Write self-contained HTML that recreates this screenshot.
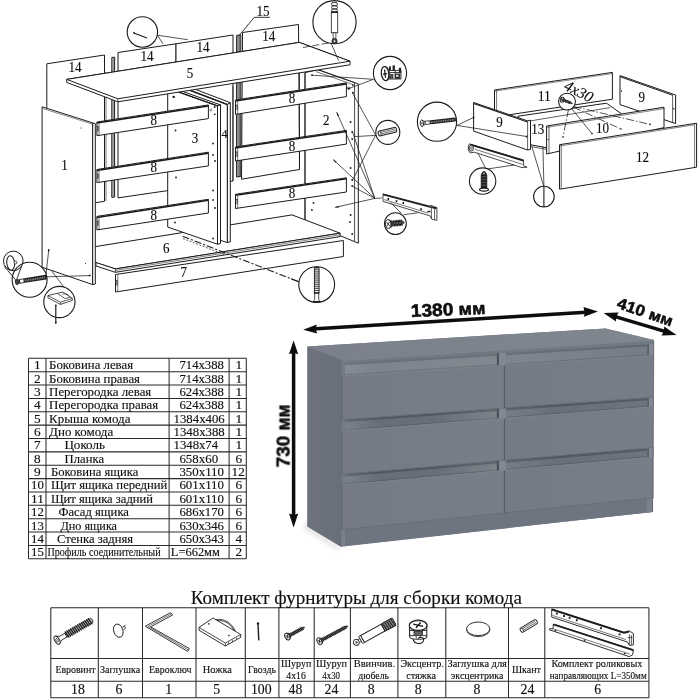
<!DOCTYPE html>
<html><head><meta charset="utf-8"><title>Комод</title>
<style>
html,body{margin:0;padding:0;background:#fff;}
body{width:700px;height:700px;overflow:hidden;font-family:"Liberation Serif",serif;}
svg{display:block}
text{fill:#0c0c0c;stroke:#0c0c0c;stroke-width:0.12px}
</style></head><body>
<svg width="700" height="700" viewBox="0 0 700 700">
<defs>
<filter id="shb" x="-30%" y="-30%" width="160%" height="160%"><feGaussianBlur stdDeviation="2.2"/></filter>
<linearGradient id="gtop" x1="0" y1="0" x2="1" y2="0"><stop offset="0" stop-color="#7a808b"/><stop offset="1" stop-color="#81878f"/></linearGradient>
<linearGradient id="gside" x1="0" y1="0" x2="1" y2="0"><stop offset="0" stop-color="#6d727d"/><stop offset="1" stop-color="#696e79"/></linearGradient>
<linearGradient id="gdr" x1="0" y1="0" x2="1" y2="0"><stop offset="0" stop-color="#747a86"/><stop offset="1" stop-color="#777d89"/></linearGradient>
<linearGradient id="grl0" gradientUnits="userSpaceOnUse" x1="344" y1="0" x2="497" y2="0"><stop offset="0" stop-color="#868c96"/><stop offset="0.2" stop-color="#7e848d"/><stop offset="1" stop-color="#828890"/></linearGradient>
<linearGradient id="grr0" gradientUnits="userSpaceOnUse" x1="506" y1="0" x2="648" y2="0"><stop offset="0" stop-color="#80868f"/><stop offset="1" stop-color="#767c86"/></linearGradient>
<linearGradient id="grl" gradientUnits="userSpaceOnUse" x1="344" y1="0" x2="497" y2="0"><stop offset="0" stop-color="#7c828c"/><stop offset="0.22" stop-color="#686e78"/><stop offset="0.6" stop-color="#686e78"/><stop offset="1" stop-color="#7c828a"/></linearGradient>
<linearGradient id="grr" gradientUnits="userSpaceOnUse" x1="506" y1="0" x2="648" y2="0"><stop offset="0" stop-color="#767c86"/><stop offset="0.35" stop-color="#696f79"/><stop offset="1" stop-color="#6e747e"/></linearGradient>
<filter id="soft" x="-2%" y="-2%" width="104%" height="104%"><feGaussianBlur stdDeviation="0.38"/></filter>
<filter id="softt" x="-2%" y="-2%" width="104%" height="104%"><feGaussianBlur stdDeviation="0.22"/></filter>
<filter id="soft2" x="-2%" y="-2%" width="104%" height="104%"><feGaussianBlur stdDeviation="0.5"/></filter>
</defs>
<rect width="700" height="700" fill="#fff"/>
<g id="drawing" filter="url(#soft)">
<polygon points="46.8,63.8 104.5,55.0 104.5,201.3 46.8,210.0" fill="#fff" stroke="#1c1c1c" stroke-width="1.0" stroke-linejoin="round"/>
<polygon points="118.0,52.5 176.0,43.8 176.0,189.4 118.0,197.9" fill="#fff" stroke="#1c1c1c" stroke-width="1.0" stroke-linejoin="round"/>
<polygon points="176.0,43.8 233.0,35.0 233.0,181.0 176.0,189.4" fill="#fff" stroke="#1c1c1c" stroke-width="1.0" stroke-linejoin="round"/>
<polygon points="242.5,32.5 298.5,24.5 299.5,169.5 241.5,179.2" fill="#fff" stroke="#1c1c1c" stroke-width="1.0" stroke-linejoin="round"/>
<polygon points="111.8,57.5 114.6,57.1 114.6,197.0 111.8,197.4" fill="#ddd" stroke="#1c1c1c" stroke-width="1.0" stroke-linejoin="round"/>
<line x1="113.2" y1="57.3" x2="113.2" y2="197.2" stroke="#1c1c1c" stroke-width="0.5"/>
<polygon points="236.6,35.4 240.8,34.8 240.8,176.4 236.6,177.0" fill="#ccc" stroke="#1c1c1c" stroke-width="1.0" stroke-linejoin="round"/>
<line x1="238.0" y1="35.2" x2="238.0" y2="176.8" stroke="#1c1c1c" stroke-width="0.6"/>
<line x1="239.4" y1="35.0" x2="239.4" y2="176.6" stroke="#1c1c1c" stroke-width="0.6"/>
<line x1="106.0" y1="74.0" x2="106.0" y2="201.0" stroke="#1c1c1c" stroke-width="0.6"/>
<polygon points="305.0,72.6 318.0,69.7 358.3,83.9 358.3,243.2 341.0,236.0 305.0,222.6" fill="#fff" stroke="#1c1c1c" stroke-width="1.0" stroke-linejoin="round"/>
<line x1="354.6" y1="82.7" x2="354.6" y2="241.2" stroke="#1c1c1c" stroke-width="0.8"/>
<line x1="318.0" y1="69.7" x2="354.6" y2="82.7" stroke="#1c1c1c" stroke-width="0.7"/>
<line x1="316.0" y1="71.6" x2="353.0" y2="84.6" stroke="#1c1c1c" stroke-width="0.6"/>
<line x1="305.0" y1="72.6" x2="305.0" y2="220.8" stroke="#1c1c1c" stroke-width="0.8"/>
<line x1="299.5" y1="73.0" x2="299.5" y2="169.5" stroke="#1c1c1c" stroke-width="0.8"/>
<circle cx="348.6" cy="88.3" r="1.2" fill="#fff" stroke="#1c1c1c" stroke-width="0.7"/>
<circle cx="313.5" cy="95.0" r="0.95" fill="#1c1c1c"/>
<circle cx="313.5" cy="142.0" r="0.95" fill="#1c1c1c"/>
<circle cx="313.5" cy="202.9" r="0.95" fill="#1c1c1c"/>
<circle cx="311.9" cy="209.9" r="0.95" fill="#1c1c1c"/>
<circle cx="352.9" cy="85.1" r="0.95" fill="#1c1c1c"/>
<circle cx="352.9" cy="92.8" r="0.95" fill="#1c1c1c"/>
<circle cx="350.6" cy="122.0" r="0.95" fill="#1c1c1c"/>
<circle cx="352.2" cy="132.0" r="0.95" fill="#1c1c1c"/>
<circle cx="352.2" cy="139.0" r="0.95" fill="#1c1c1c"/>
<circle cx="350.6" cy="168.0" r="0.95" fill="#1c1c1c"/>
<circle cx="352.2" cy="180.0" r="0.95" fill="#1c1c1c"/>
<circle cx="352.2" cy="186.0" r="0.95" fill="#1c1c1c"/>
<circle cx="350.6" cy="215.0" r="0.95" fill="#1c1c1c"/>
<circle cx="350.0" cy="222.0" r="0.95" fill="#1c1c1c"/>
<circle cx="352.2" cy="234.0" r="0.95" fill="#1c1c1c"/>
<polygon points="62.0,252.0 115.4,268.9 340.1,233.2 292.0,214.9" fill="#fff" stroke="#1c1c1c" stroke-width="1.0" stroke-linejoin="round"/>
<polygon points="96.0,262.5 115.4,268.9 340.1,233.2 340.1,236.6 115.4,272.3 96.0,266.0" fill="#fff" stroke="#1c1c1c" stroke-width="1.0" stroke-linejoin="round"/>
<line x1="115.4" y1="268.9" x2="115.4" y2="272.4" stroke="#1c1c1c" stroke-width="0.7"/>
<line x1="115.4" y1="270.4" x2="340.1" y2="234.8" stroke="#1c1c1c" stroke-width="0.55"/>
<polygon points="177.4,85.3 227.4,104.4 227.4,242.6 177.4,226.0" fill="#fff" stroke="#1c1c1c" stroke-width="1.0" stroke-linejoin="round"/>
<polygon points="177.4,85.3 227.4,104.4 230.3,102.7 180.3,83.6" fill="#fff" stroke="#1c1c1c" stroke-width="1.0" stroke-linejoin="round"/>
<polygon points="227.4,104.4 230.3,102.7 230.3,241.8 227.4,242.6" fill="#fff" stroke="#1c1c1c" stroke-width="1.0" stroke-linejoin="round"/>
<line x1="177.4" y1="85.6" x2="227.4" y2="104.7" stroke="#1c1c1c" stroke-width="1.3"/>
<line x1="232.9" y1="86.0" x2="232.9" y2="181.0" stroke="#1c1c1c" stroke-width="0.7"/>
<polygon points="167.7,88.0 217.5,105.7 217.5,244.2 167.7,227.1" fill="#fff" stroke="#1c1c1c" stroke-width="1.0" stroke-linejoin="round"/>
<polygon points="167.7,88.0 217.5,105.7 220.5,104.9 170.7,87.2" fill="#fff" stroke="#1c1c1c" stroke-width="1.0" stroke-linejoin="round"/>
<polygon points="217.5,105.7 220.5,104.9 220.5,243.4 217.5,244.2" fill="#fff" stroke="#1c1c1c" stroke-width="1.0" stroke-linejoin="round"/>
<line x1="167.7" y1="88.3" x2="217.5" y2="106.0" stroke="#1c1c1c" stroke-width="1.2"/>
<circle cx="175.5" cy="130.5" r="0.9" fill="#1c1c1c"/>
<circle cx="176.0" cy="177.5" r="0.9" fill="#1c1c1c"/>
<circle cx="175.0" cy="222.5" r="0.9" fill="#1c1c1c"/>
<circle cx="214.7" cy="107.0" r="0.9" fill="#1c1c1c"/>
<circle cx="214.7" cy="114.3" r="0.9" fill="#1c1c1c"/>
<circle cx="213.0" cy="143.5" r="0.9" fill="#1c1c1c"/>
<circle cx="213.0" cy="155.0" r="0.9" fill="#1c1c1c"/>
<circle cx="215.0" cy="161.0" r="0.9" fill="#1c1c1c"/>
<circle cx="213.0" cy="190.5" r="0.9" fill="#1c1c1c"/>
<circle cx="213.0" cy="200.0" r="0.9" fill="#1c1c1c"/>
<circle cx="215.0" cy="208.0" r="0.9" fill="#1c1c1c"/>
<circle cx="213.0" cy="238.5" r="0.9" fill="#1c1c1c"/>
<circle cx="210.9" cy="110.0" r="1.0" fill="none" stroke="#1c1c1c" stroke-width="0.5"/>
<circle cx="173.7" cy="96.9" r="1.2" fill="#1c1c1c"/>
<polygon points="96.9,122.0 208.4,104.9 208.4,118.6 96.9,135.7" fill="#fff" stroke="#1c1c1c" stroke-width="1.0" stroke-linejoin="round"/>
<line x1="96.9" y1="123.0" x2="208.4" y2="105.9" stroke="#1c1c1c" stroke-width="1.5"/>
<line x1="99.1" y1="123.2" x2="99.1" y2="135.1" stroke="#1c1c1c" stroke-width="0.6"/>
<rect x="97.5" y="126.6" width="1.2" height="4.4" fill="none" stroke="#1c1c1c" stroke-width="0.5"/>
<polygon points="96.9,169.5 208.4,152.2 208.4,165.9 96.9,182.6" fill="#fff" stroke="#1c1c1c" stroke-width="1.0" stroke-linejoin="round"/>
<line x1="96.9" y1="170.5" x2="208.4" y2="153.2" stroke="#1c1c1c" stroke-width="1.5"/>
<line x1="99.1" y1="170.7" x2="99.1" y2="182.0" stroke="#1c1c1c" stroke-width="0.6"/>
<rect x="97.5" y="173.9" width="1.2" height="4.4" fill="none" stroke="#1c1c1c" stroke-width="0.5"/>
<polygon points="96.9,216.4 208.4,199.3 208.4,213.0 96.9,229.9" fill="#fff" stroke="#1c1c1c" stroke-width="1.0" stroke-linejoin="round"/>
<line x1="96.9" y1="217.4" x2="208.4" y2="200.3" stroke="#1c1c1c" stroke-width="1.5"/>
<line x1="99.1" y1="217.6" x2="99.1" y2="229.3" stroke="#1c1c1c" stroke-width="0.6"/>
<rect x="97.5" y="221.0" width="1.2" height="4.4" fill="none" stroke="#1c1c1c" stroke-width="0.5"/>
<polygon points="235.5,100.0 346.4,82.9 346.4,96.6 235.5,114.4" fill="#fff" stroke="#1c1c1c" stroke-width="1.0" stroke-linejoin="round"/>
<line x1="235.5" y1="101.0" x2="346.4" y2="83.9" stroke="#1c1c1c" stroke-width="1.5"/>
<line x1="237.7" y1="101.2" x2="237.7" y2="113.8" stroke="#1c1c1c" stroke-width="0.6"/>
<rect x="236.1" y="105.0" width="1.2" height="4.4" fill="none" stroke="#1c1c1c" stroke-width="0.5"/>
<polygon points="235.5,146.9 346.4,130.4 346.4,144.1 235.5,161.0" fill="#fff" stroke="#1c1c1c" stroke-width="1.0" stroke-linejoin="round"/>
<line x1="235.5" y1="147.9" x2="346.4" y2="131.4" stroke="#1c1c1c" stroke-width="1.5"/>
<line x1="237.7" y1="148.1" x2="237.7" y2="160.4" stroke="#1c1c1c" stroke-width="0.6"/>
<rect x="236.1" y="151.8" width="1.2" height="4.4" fill="none" stroke="#1c1c1c" stroke-width="0.5"/>
<polygon points="235.5,194.3 346.4,177.8 346.4,192.0 235.5,208.5" fill="#fff" stroke="#1c1c1c" stroke-width="1.0" stroke-linejoin="round"/>
<line x1="235.5" y1="195.3" x2="346.4" y2="178.8" stroke="#1c1c1c" stroke-width="1.5"/>
<line x1="237.7" y1="195.5" x2="237.7" y2="207.9" stroke="#1c1c1c" stroke-width="0.6"/>
<rect x="236.1" y="199.2" width="1.2" height="4.4" fill="none" stroke="#1c1c1c" stroke-width="0.5"/>
<polygon points="42.1,106.8 92.7,122.9 92.7,284.6 42.1,267.2" fill="#fff" stroke="#1c1c1c" stroke-width="1.0" stroke-linejoin="round"/>
<polygon points="92.7,122.9 95.3,123.7 95.3,284.0 92.7,284.6" fill="#fff" stroke="#1c1c1c" stroke-width="1.0" stroke-linejoin="round"/>
<line x1="43.0" y1="108.6" x2="92.6" y2="124.2" stroke="#1c1c1c" stroke-width="0.5"/>
<circle cx="81.0" cy="128.0" r="0.6" fill="#1c1c1c"/>
<circle cx="48.5" cy="249.5" r="0.6" fill="#1c1c1c"/>
<circle cx="85.5" cy="263.5" r="0.6" fill="#1c1c1c"/>
<circle cx="90.0" cy="275.0" r="0.6" fill="#1c1c1c"/>
<polygon points="66.7,79.4 66.7,82.4 117.9,101.8 350.0,64.8 350.0,61.2 299.3,42.4" fill="#fff" stroke="#1c1c1c" stroke-width="1.0" stroke-linejoin="round"/>
<polygon points="66.7,79.4 117.9,98.8 350.0,61.2 299.3,42.4" fill="#fff" stroke="#1c1c1c" stroke-width="1.0" stroke-linejoin="round"/>
<line x1="117.9" y1="98.8" x2="117.9" y2="102.0" stroke="#1c1c1c" stroke-width="0.7"/>
<polygon points="115.5,274.5 343.4,240.5 343.4,256.5 115.5,292.0" fill="#fff" stroke="#1c1c1c" stroke-width="1.0" stroke-linejoin="round"/>
<line x1="117.8" y1="275.0" x2="117.8" y2="291.0" stroke="#1c1c1c" stroke-width="0.6"/>
<rect x="116.2" y="280.5" width="1.0" height="4.6" fill="none" stroke="#1c1c1c" stroke-width="0.5"/>
<text x="61.2" y="169.5" font-family="Liberation Serif" font-size="14.5" font-weight="normal" text-anchor="start" textLength="6.5" lengthAdjust="spacingAndGlyphs" >1</text>
<text x="323.0" y="124.8" font-family="Liberation Serif" font-size="14.5" font-weight="normal" text-anchor="start" textLength="6.5" lengthAdjust="spacingAndGlyphs" >2</text>
<text x="191.7" y="143.0" font-family="Liberation Serif" font-size="14.5" font-weight="normal" text-anchor="start" textLength="6.5" lengthAdjust="spacingAndGlyphs" >3</text>
<text x="221.6" y="138.2" font-family="Liberation Serif" font-size="13.5" font-weight="normal" text-anchor="start" textLength="6.1" lengthAdjust="spacingAndGlyphs" >4</text>
<text x="186.7" y="77.5" font-family="Liberation Serif" font-size="14.5" font-weight="normal" text-anchor="start" textLength="6.5" lengthAdjust="spacingAndGlyphs" >5</text>
<text x="163.0" y="253.0" font-family="Liberation Serif" font-size="14.5" font-weight="normal" text-anchor="start" textLength="6.5" lengthAdjust="spacingAndGlyphs" >6</text>
<text x="180.5" y="277.0" font-family="Liberation Serif" font-size="14.5" font-weight="normal" text-anchor="start" textLength="6.5" lengthAdjust="spacingAndGlyphs" >7</text>
<text x="150.5" y="124.6" font-family="Liberation Serif" font-size="14.5" font-weight="normal" text-anchor="start" textLength="6.5" lengthAdjust="spacingAndGlyphs" >8</text>
<text x="150.5" y="171.8" font-family="Liberation Serif" font-size="14.5" font-weight="normal" text-anchor="start" textLength="6.5" lengthAdjust="spacingAndGlyphs" >8</text>
<text x="150.5" y="219.6" font-family="Liberation Serif" font-size="14.5" font-weight="normal" text-anchor="start" textLength="6.5" lengthAdjust="spacingAndGlyphs" >8</text>
<text x="288.7" y="103.2" font-family="Liberation Serif" font-size="14.5" font-weight="normal" text-anchor="start" textLength="6.5" lengthAdjust="spacingAndGlyphs" >8</text>
<text x="288.7" y="150.6" font-family="Liberation Serif" font-size="14.5" font-weight="normal" text-anchor="start" textLength="6.5" lengthAdjust="spacingAndGlyphs" >8</text>
<text x="288.7" y="197.9" font-family="Liberation Serif" font-size="14.5" font-weight="normal" text-anchor="start" textLength="6.5" lengthAdjust="spacingAndGlyphs" >8</text>
<text x="68.5" y="71.5" font-family="Liberation Serif" font-size="14.5" font-weight="normal" text-anchor="start" textLength="13.1" lengthAdjust="spacingAndGlyphs" >14</text>
<text x="140.5" y="61.3" font-family="Liberation Serif" font-size="14.5" font-weight="normal" text-anchor="start" textLength="13.1" lengthAdjust="spacingAndGlyphs" >14</text>
<text x="196.5" y="51.6" font-family="Liberation Serif" font-size="14.5" font-weight="normal" text-anchor="start" textLength="13.1" lengthAdjust="spacingAndGlyphs" >14</text>
<text x="262.3" y="41.2" font-family="Liberation Serif" font-size="14.5" font-weight="normal" text-anchor="start" textLength="13.1" lengthAdjust="spacingAndGlyphs" >14</text>
<text x="256.5" y="16.2" font-family="Liberation Serif" font-size="14.5" font-weight="normal" text-anchor="start" textLength="13.1" lengthAdjust="spacingAndGlyphs" >15</text>
<line x1="254.4" y1="17.3" x2="270.0" y2="17.3" stroke="#1c1c1c" stroke-width="0.9"/>
<line x1="254.4" y1="17.3" x2="239.5" y2="35.0" stroke="#1c1c1c" stroke-width="0.9"/>
<polygon points="494.5,90.0 612.4,72.4 612.4,99.2 494.5,117.0" fill="#fff" stroke="#1c1c1c" stroke-width="1.0" stroke-linejoin="round"/>
<line x1="496.6" y1="89.8" x2="496.6" y2="116.6" stroke="#1c1c1c" stroke-width="0.6"/>
<line x1="494.5" y1="91.2" x2="612.4" y2="73.6" stroke="#1c1c1c" stroke-width="0.5"/>
<polygon points="620.0,75.6 675.6,95.0 675.6,123.6 620.0,104.6" fill="#fff" stroke="#1c1c1c" stroke-width="1.0" stroke-linejoin="round"/>
<line x1="672.6" y1="94.6" x2="672.6" y2="122.6" stroke="#1c1c1c" stroke-width="0.7"/>
<line x1="620.0" y1="76.7" x2="672.6" y2="95.2" stroke="#1c1c1c" stroke-width="1.0"/>
<circle cx="621.4" cy="91.0" r="0.8" fill="#1c1c1c"/>
<circle cx="673.8" cy="108.8" r="0.8" fill="#1c1c1c"/>
<polygon points="518.1,116.2 606.5,103.2 621.5,113.8 563.0,150.6 531.0,144.9" fill="#fff" stroke="#1c1c1c" stroke-width="1.0" stroke-linejoin="round"/>
<line x1="531.0" y1="146.6" x2="560.0" y2="151.8" stroke="#1c1c1c" stroke-width="0.7"/>
<line x1="530.5" y1="120.9" x2="610.0" y2="107.6" stroke="#1c1c1c" stroke-width="0.7"/>
<polygon points="546.6,126.0 664.0,107.2 664.0,127.6 546.6,154.0" fill="#fff" stroke="#1c1c1c" stroke-width="1.0" stroke-linejoin="round"/>
<line x1="549.0" y1="125.8" x2="549.0" y2="153.4" stroke="#1c1c1c" stroke-width="0.7"/>
<line x1="546.6" y1="127.4" x2="664.0" y2="108.6" stroke="#1c1c1c" stroke-width="0.55"/>
<line x1="546.6" y1="139.7" x2="549.0" y2="139.4" stroke="#1c1c1c" stroke-width="0.6"/>
<polygon points="473.6,102.5 527.6,120.9 530.5,120.2 530.5,149.4 527.6,150.0 473.6,131.1" fill="#fff" stroke="#1c1c1c" stroke-width="1.0" stroke-linejoin="round"/>
<line x1="527.6" y1="120.9" x2="527.6" y2="150.0" stroke="#1c1c1c" stroke-width="0.7"/>
<line x1="473.6" y1="103.6" x2="527.6" y2="122.0" stroke="#1c1c1c" stroke-width="1.1"/>
<polygon points="559.5,144.7 696.6,123.2 696.6,167.2 559.5,189.2" fill="#fff" stroke="#1c1c1c" stroke-width="1.0" stroke-linejoin="round"/>
<line x1="561.2" y1="145.0" x2="561.2" y2="188.6" stroke="#1c1c1c" stroke-width="0.7"/>
<line x1="559.5" y1="146.0" x2="694.6" y2="124.8" stroke="#1c1c1c" stroke-width="0.55"/>
<line x1="694.6" y1="124.0" x2="694.6" y2="167.4" stroke="#1c1c1c" stroke-width="0.6"/>
<line x1="573.5" y1="106.5" x2="650.0" y2="124.4" stroke="#1c1c1c" stroke-width="0.75" stroke-dasharray="8 2 1.5 2"/>
<line x1="573.0" y1="107.0" x2="621.0" y2="129.0" stroke="#1c1c1c" stroke-width="0.75" stroke-dasharray="8 2 1.5 2"/>
<line x1="571.5" y1="108.5" x2="592.0" y2="133.6" stroke="#1c1c1c" stroke-width="0.75"/>
<line x1="568.5" y1="109.5" x2="563.0" y2="137.0" stroke="#1c1c1c" stroke-width="0.75" stroke-dasharray="8 2 1.5 2"/>
<circle cx="650.0" cy="124.4" r="0.8" fill="#1c1c1c"/>
<circle cx="621.0" cy="129.0" r="0.8" fill="#1c1c1c"/>
<circle cx="592.0" cy="133.6" r="0.8" fill="#1c1c1c"/>
<circle cx="563.0" cy="137.0" r="0.8" fill="#1c1c1c"/>
<circle cx="567.0" cy="101.6" r="8.4" fill="#fff" stroke="#1c1c1c" stroke-width="1.1"/>
<g transform="translate(562.0,99.6) rotate(20.7)">
<path d="M0.48,-2.60 L2.99,-0.92 L8.9,-0.88 L11.3,0 L8.9,0.88 L2.99,0.92 L0.48,2.60 Z" fill="#3a3a3a" stroke="#1c1c1c" stroke-width="0.6"/>
<line x1="3.79" y1="-1.36" x2="4.39" y2="1.36" stroke="#111" stroke-width="0.8"/>
<line x1="4.54" y1="-0.48" x2="4.74" y2="0.48" stroke="#bbb" stroke-width="0.45"/>
<line x1="5.29" y1="-1.36" x2="5.89" y2="1.36" stroke="#111" stroke-width="0.8"/>
<line x1="6.04" y1="-0.48" x2="6.24" y2="0.48" stroke="#bbb" stroke-width="0.45"/>
<line x1="6.79" y1="-1.36" x2="7.39" y2="1.36" stroke="#111" stroke-width="0.8"/>
<line x1="7.54" y1="-0.48" x2="7.74" y2="0.48" stroke="#bbb" stroke-width="0.45"/>
<line x1="8.29" y1="-1.36" x2="8.89" y2="1.36" stroke="#111" stroke-width="0.8"/>
<line x1="9.04" y1="-0.48" x2="9.24" y2="0.48" stroke="#bbb" stroke-width="0.45"/>
<ellipse cx="0" cy="0" rx="1.61" ry="2.60" fill="#fff" stroke="#1c1c1c" stroke-width="0.9"/>
<path d="M-0.89,-1.30 L0.89,1.30 M-0.89,1.30 L0.89,-1.30" stroke="#1c1c1c" stroke-width="0.8" fill="none"/>
</g>
<text x="496.2" y="127.0" font-family="Liberation Serif" font-size="14.5" font-weight="normal" text-anchor="start" textLength="6.5" lengthAdjust="spacingAndGlyphs" >9</text>
<text x="638.5" y="102.2" font-family="Liberation Serif" font-size="14.5" font-weight="normal" text-anchor="start" textLength="6.5" lengthAdjust="spacingAndGlyphs" >9</text>
<text x="537.8" y="101.0" font-family="Liberation Serif" font-size="14.5" font-weight="normal" text-anchor="start" textLength="13.1" lengthAdjust="spacingAndGlyphs" >11</text>
<text x="531.2" y="134.2" font-family="Liberation Serif" font-size="14.6" font-weight="normal" text-anchor="start" textLength="13.1" lengthAdjust="spacingAndGlyphs" >13</text>
<text x="596.0" y="133.2" font-family="Liberation Serif" font-size="14.6" font-weight="normal" text-anchor="start" textLength="13.1" lengthAdjust="spacingAndGlyphs" >10</text>
<text x="635.9" y="161.6" font-family="Liberation Serif" font-size="14.5" font-weight="normal" text-anchor="start" textLength="13.1" lengthAdjust="spacingAndGlyphs" >12</text>
<text transform="translate(563.1,89.0) rotate(27)" font-family="Liberation Serif" font-size="15.5" font-style="italic">4х30</text>
<polygon points="383.0,193.9 429.3,206.0 431.0,205.4 436.9,207.6 436.9,220.4 431.6,219.0 430.4,216.0 383.0,201.4" fill="#fff" stroke="#1c1c1c" stroke-width="0.8"/>
<polyline points="383.0,194.6 429.3,206.7 436.6,208.4" fill="none" stroke="#1c1c1c" stroke-width="1.6"/>
<polyline points="384.2,199.6 428.5,213.2" fill="none" stroke="#1c1c1c" stroke-width="0.6"/>
<line x1="431.4" y1="207.6" x2="431.4" y2="218.8" stroke="#1c1c1c" stroke-width="0.7"/>
<line x1="434.6" y1="208.6" x2="434.6" y2="219.6" stroke="#1c1c1c" stroke-width="0.7"/>
<rect x="387.5" y="198.0" width="1.6" height="2.0" fill="#1c1c1c"/>
<rect x="395.7" y="200.2" width="1.6" height="2.0" fill="#1c1c1c"/>
<rect x="402.5" y="202.0" width="1.6" height="2.0" fill="#1c1c1c"/>
<rect x="420.2" y="208.2" width="1.6" height="2.0" fill="#1c1c1c"/>
<rect x="427.5" y="210.8" width="3" height="1.4" fill="#1c1c1c"/>
<polygon points="469.4,143.9 523.6,160.0 523.6,165.7 527.1,167.2 522.0,167.6 474.3,152.2 470.2,152.9 468.4,150.4 468.4,145.6" fill="#fff" stroke="#1c1c1c" stroke-width="0.8"/>
<polyline points="470.4,144.6 523.4,160.6" fill="none" stroke="#1c1c1c" stroke-width="1.7"/>
<polyline points="474.8,149.2 522.8,164.4" fill="none" stroke="#1c1c1c" stroke-width="0.6"/>
<ellipse cx="471.2" cy="148.2" rx="2.2" ry="3.0" fill="#fff" stroke="#1c1c1c" stroke-width="0.9"/>
<ellipse cx="471.2" cy="148.2" rx="0.9" ry="1.3" fill="none" stroke="#1c1c1c" stroke-width="0.6"/>
<line x1="157.3" y1="35.2" x2="187.8" y2="39.7" stroke="#1c1c1c" stroke-width="0.75"/>
<line x1="157.3" y1="35.2" x2="163.0" y2="43.8" stroke="#1c1c1c" stroke-width="0.75"/>
<line x1="331.0" y1="43.0" x2="338.5" y2="60.5" stroke="#1c1c1c" stroke-width="0.75"/>
<line x1="373.4" y1="79.3" x2="312.0" y2="75.2" stroke="#1c1c1c" stroke-width="0.75"/>
<line x1="373.4" y1="79.3" x2="348.8" y2="88.6" stroke="#1c1c1c" stroke-width="0.75"/>
<line x1="375.7" y1="135.0" x2="352.6" y2="93.1" stroke="#1c1c1c" stroke-width="0.75"/>
<line x1="375.7" y1="135.4" x2="354.4" y2="136.6" stroke="#1c1c1c" stroke-width="0.75"/>
<line x1="375.7" y1="135.0" x2="352.6" y2="180.0" stroke="#1c1c1c" stroke-width="0.75"/>
<line x1="374.8" y1="198.4" x2="336.6" y2="112.1" stroke="#1c1c1c" stroke-width="0.75"/>
<line x1="374.8" y1="198.4" x2="333.1" y2="159.4" stroke="#1c1c1c" stroke-width="0.75"/>
<line x1="374.8" y1="198.4" x2="335.0" y2="207.4" stroke="#1c1c1c" stroke-width="0.75"/>
<line x1="374.8" y1="198.4" x2="381.7" y2="198.0" stroke="#1c1c1c" stroke-width="0.75"/>
<line x1="374.8" y1="198.4" x2="352.8" y2="132.5" stroke="#1c1c1c" stroke-width="0.75"/>
<line x1="374.8" y1="198.4" x2="352.8" y2="186.5" stroke="#1c1c1c" stroke-width="0.75"/>
<line x1="390.7" y1="202.5" x2="401.6" y2="213.7" stroke="#1c1c1c" stroke-width="0.75"/>
<line x1="417.7" y1="212.8" x2="403.6" y2="214.7" stroke="#1c1c1c" stroke-width="0.75"/>
<line x1="457.0" y1="125.4" x2="473.6" y2="117.5" stroke="#1c1c1c" stroke-width="0.75"/>
<line x1="457.0" y1="125.4" x2="526.6" y2="136.5" stroke="#1c1c1c" stroke-width="0.75"/>
<line x1="477.9" y1="152.9" x2="485.7" y2="168.6" stroke="#1c1c1c" stroke-width="0.75"/>
<line x1="514.3" y1="165.0" x2="487.1" y2="169.0" stroke="#1c1c1c" stroke-width="0.75"/>
<line x1="532.1" y1="147.1" x2="543.6" y2="186.0" stroke="#1c1c1c" stroke-width="0.75"/>
<line x1="542.9" y1="146.4" x2="543.9" y2="186.0" stroke="#1c1c1c" stroke-width="0.75"/>
<line x1="48.7" y1="250.4" x2="45.6" y2="277.9" stroke="#1c1c1c" stroke-width="0.75"/>
<line x1="46.4" y1="276.8" x2="89.6" y2="275.6" stroke="#1c1c1c" stroke-width="0.75"/>
<line x1="51.9" y1="271.2" x2="63.6" y2="286.6" stroke="#1c1c1c" stroke-width="0.75"/>
<line x1="42.1" y1="267.7" x2="30.0" y2="272.0" stroke="#1c1c1c" stroke-width="0.75"/>
<polygon points="336.6,112.1 339.0,115.3 337.4,116.0" fill="#1c1c1c"/>
<polygon points="333.1,159.4 336.5,161.4 335.4,162.7" fill="#1c1c1c"/>
<polygon points="335.0,207.4 338.6,205.7 339.0,207.4" fill="#1c1c1c"/>
<line x1="303.0" y1="47.5" x2="331.0" y2="42.5" stroke="#1c1c1c" stroke-width="0.75" stroke-dasharray="7 2.5"/>
<line x1="182.6" y1="236.2" x2="298.9" y2="281.8" stroke="#1c1c1c" stroke-width="1.1" stroke-dasharray="7 2 2 2"/>
<line x1="291.0" y1="278.7" x2="299.4" y2="282.0" stroke="#1c1c1c" stroke-width="1.0"/>
<line x1="183.0" y1="238.6" x2="224.0" y2="254.4" stroke="#1c1c1c" stroke-width="0.7" stroke-dasharray="2 1.5"/>
<circle cx="312.0" cy="75.2" r="0.9" fill="#1c1c1c"/>
<circle cx="348.8" cy="88.6" r="0.9" fill="#1c1c1c"/>
<circle cx="48.7" cy="250.4" r="0.9" fill="#1c1c1c"/>
<circle cx="89.6" cy="275.6" r="0.9" fill="#1c1c1c"/>
<circle cx="473.6" cy="117.5" r="0.9" fill="#1c1c1c"/>
<circle cx="526.6" cy="136.5" r="0.9" fill="#1c1c1c"/>
<circle cx="142.4" cy="32.0" r="15.2" fill="#fff" stroke="#1c1c1c" stroke-width="1.1"/>
<line x1="134.4" y1="33.2" x2="147.0" y2="38.0" stroke="#1c1c1c" stroke-width="1.15"/>
<circle cx="134.0" cy="33.0" r="0.9" fill="#1c1c1c"/>
<circle cx="334.5" cy="22.2" r="21.6" fill="#fff" stroke="#1c1c1c" stroke-width="1.1"/>
<rect x="331.3" y="12.4" width="6.4" height="20.4" fill="#fff" stroke="#1c1c1c" stroke-width="0.8"/>
<rect x="333.1" y="32.8" width="2.8" height="6.4" fill="#fff" stroke="#1c1c1c" stroke-width="0.7"/>
<rect x="331.6" y="2.6" width="5.8" height="3.0" rx="1.3" fill="#fff" stroke="#1c1c1c" stroke-width="0.9"/>
<rect x="331.6" y="5.9" width="5.8" height="3.0" rx="1.3" fill="#fff" stroke="#1c1c1c" stroke-width="0.9"/>
<rect x="331.6" y="9.2" width="5.8" height="3.0" rx="1.3" fill="#fff" stroke="#1c1c1c" stroke-width="0.9"/>
<rect x="331.2" y="11.2" width="6.6" height="1.6" fill="#1c1c1c"/>
<circle cx="334.5" cy="41.0" r="2.6" fill="#444" stroke="#1c1c1c" stroke-width="0.8"/>
<circle cx="334.5" cy="41.2" r="1.0" fill="#ddd"/>
<circle cx="390.0" cy="73.0" r="16.6" fill="#fff" stroke="#1c1c1c" stroke-width="1.1"/>
<path d="M388.4,70.4 h12.6 v8.6 h-12.6 z" fill="#fff" stroke="#1c1c1c" stroke-width="0.9"/>
<rect x="389.0" y="66.4" width="1.9" height="4.2" fill="#222"/>
<rect x="392.6" y="65.4" width="2.3" height="5.2" fill="#222"/>
<rect x="398.9" y="67.8" width="2.2" height="5.0" fill="#222"/>
<rect x="394.6" y="73.6" width="5.6" height="5.2" fill="#2a2a2a"/>
<rect x="389.6" y="74.6" width="3.4" height="3.6" fill="#555" stroke="#1c1c1c" stroke-width="0.6"/>
<path d="M389,72.6 h11.8 M395.2,70.6 v3" fill="none" stroke="#1c1c1c" stroke-width="0.9"/>
<rect x="396.0" y="74.8" width="2.6" height="2.0" fill="#ddd"/>
<g transform="rotate(-7 385.1 73.6)"><ellipse cx="386.0" cy="73.6" rx="3.7" ry="7.0" fill="#fff" stroke="#1c1c1c" stroke-width="0.8"/><ellipse cx="385.0" cy="73.6" rx="3.7" ry="7.0" fill="#fff" stroke="#1c1c1c" stroke-width="1.2"/><path d="M382.8,73.8 h4.4 M385,69.6 v8.2" stroke="#1c1c1c" stroke-width="1.3" fill="none"/></g>
<circle cx="387.8" cy="132.4" r="12.0" fill="#fff" stroke="#1c1c1c" stroke-width="1.1"/>
<g transform="translate(378.4,133.8) rotate(-13.5)"><rect x="0" y="-2.5" width="18.6" height="5.0" rx="1.6" fill="#fff" stroke="#1c1c1c" stroke-width="1.0"/><line x1="1.5" y1="-0.9" x2="17.6" y2="-0.9" stroke="#1c1c1c" stroke-width="0.6"/><line x1="1.5" y1="0.8" x2="17.6" y2="0.8" stroke="#1c1c1c" stroke-width="0.6"/><ellipse cx="1.3" cy="0" rx="1.3" ry="2.5" fill="#fff" stroke="#1c1c1c" stroke-width="0.8"/></g>
<circle cx="437.0" cy="121.7" r="19.6" fill="#fff" stroke="#1c1c1c" stroke-width="1.1"/>
<g transform="translate(420.5,123.4) rotate(-6.4)">
<path d="M1.4,-3.20 L4.63,-1.60 L4.63,1.60 L1.4,3.20 Z" fill="#fff" stroke="#1c1c1c" stroke-width="0.7"/>
<ellipse cx="1.4" cy="0" rx="1.6" ry="3.20" fill="#fff" stroke="#1c1c1c" stroke-width="0.9"/>
<circle cx="1.4" cy="0" r="0.8" fill="#1c1c1c"/>
<rect x="4.63" y="-1.60" width="4.99" height="3.20" fill="#fff" stroke="#1c1c1c" stroke-width="0.8"/>
<rect x="9.62" y="-2.00" width="26.01" height="4.00" rx="0.8" fill="#1e1e1e"/>
<line x1="10.82" y1="-0.80" x2="11.07" y2="0.96" stroke="#e8e8e8" stroke-width="0.55"/>
<line x1="12.57" y1="-0.80" x2="12.82" y2="0.96" stroke="#e8e8e8" stroke-width="0.55"/>
<line x1="14.32" y1="-0.80" x2="14.57" y2="0.96" stroke="#e8e8e8" stroke-width="0.55"/>
<line x1="16.07" y1="-0.80" x2="16.32" y2="0.96" stroke="#e8e8e8" stroke-width="0.55"/>
<line x1="17.82" y1="-0.80" x2="18.07" y2="0.96" stroke="#e8e8e8" stroke-width="0.55"/>
<line x1="19.57" y1="-0.80" x2="19.82" y2="0.96" stroke="#e8e8e8" stroke-width="0.55"/>
<line x1="21.32" y1="-0.80" x2="21.57" y2="0.96" stroke="#e8e8e8" stroke-width="0.55"/>
<line x1="23.07" y1="-0.80" x2="23.32" y2="0.96" stroke="#e8e8e8" stroke-width="0.55"/>
<line x1="24.82" y1="-0.80" x2="25.07" y2="0.96" stroke="#e8e8e8" stroke-width="0.55"/>
<line x1="26.57" y1="-0.80" x2="26.82" y2="0.96" stroke="#e8e8e8" stroke-width="0.55"/>
<line x1="28.32" y1="-0.80" x2="28.57" y2="0.96" stroke="#e8e8e8" stroke-width="0.55"/>
<line x1="30.07" y1="-0.80" x2="30.32" y2="0.96" stroke="#e8e8e8" stroke-width="0.55"/>
<line x1="31.82" y1="-0.80" x2="32.07" y2="0.96" stroke="#e8e8e8" stroke-width="0.55"/>
<line x1="33.57" y1="-0.80" x2="33.82" y2="0.96" stroke="#e8e8e8" stroke-width="0.55"/>
</g>
<circle cx="395.4" cy="223.6" r="10.9" fill="#fff" stroke="#1c1c1c" stroke-width="1.1"/>
<g transform="translate(388.2,224.0) rotate(-5.6)">
<path d="M0.80,-4.30 L4.94,-2.18 L13.9,-2.08 L16.3,0 L13.9,2.08 L4.94,2.18 L0.80,4.30 Z" fill="#3a3a3a" stroke="#1c1c1c" stroke-width="0.6"/>
<line x1="5.74" y1="-3.22" x2="6.34" y2="3.22" stroke="#111" stroke-width="0.8"/>
<line x1="6.49" y1="-1.14" x2="6.69" y2="1.14" stroke="#bbb" stroke-width="0.45"/>
<line x1="7.24" y1="-3.22" x2="7.84" y2="3.22" stroke="#111" stroke-width="0.8"/>
<line x1="7.99" y1="-1.14" x2="8.19" y2="1.14" stroke="#bbb" stroke-width="0.45"/>
<line x1="8.74" y1="-3.22" x2="9.34" y2="3.22" stroke="#111" stroke-width="0.8"/>
<line x1="9.49" y1="-1.14" x2="9.69" y2="1.14" stroke="#bbb" stroke-width="0.45"/>
<line x1="10.24" y1="-3.22" x2="10.84" y2="3.22" stroke="#111" stroke-width="0.8"/>
<line x1="10.99" y1="-1.14" x2="11.19" y2="1.14" stroke="#bbb" stroke-width="0.45"/>
<line x1="11.74" y1="-3.22" x2="12.34" y2="3.22" stroke="#111" stroke-width="0.8"/>
<line x1="12.49" y1="-1.14" x2="12.69" y2="1.14" stroke="#bbb" stroke-width="0.45"/>
<line x1="13.24" y1="-3.22" x2="13.84" y2="3.22" stroke="#111" stroke-width="0.8"/>
<line x1="13.99" y1="-1.14" x2="14.19" y2="1.14" stroke="#bbb" stroke-width="0.45"/>
<ellipse cx="0" cy="0" rx="2.67" ry="4.30" fill="#fff" stroke="#1c1c1c" stroke-width="0.9"/>
<path d="M-1.47,-2.15 L1.47,2.15 M-1.47,2.15 L1.47,-2.15" stroke="#1c1c1c" stroke-width="0.8" fill="none"/>
</g>
<circle cx="482.6" cy="181.1" r="13.2" fill="#fff" stroke="#1c1c1c" stroke-width="1.1"/>
<path d="M481.1,188.6 L481.1,175.4 Q481.4,172.4 484.0,171.0 Q486.6,172.4 486.9,175.4 L486.9,188.6 Z" fill="#1c1c1c" stroke="#1c1c1c" stroke-width="0.6"/>
<line x1="481.8" y1="176.6" x2="486.2" y2="176.9" stroke="#999" stroke-width="0.5"/>
<line x1="481.8" y1="179.4" x2="486.2" y2="179.70000000000002" stroke="#999" stroke-width="0.5"/>
<line x1="481.8" y1="182.2" x2="486.2" y2="182.5" stroke="#999" stroke-width="0.5"/>
<line x1="481.8" y1="185.0" x2="486.2" y2="185.3" stroke="#999" stroke-width="0.5"/>
<ellipse cx="484.0" cy="173.6" rx="0.9" ry="1.0" fill="#ccc"/>
<ellipse cx="484.0" cy="189.6" rx="4.5" ry="1.5" fill="#fff" stroke="#1c1c1c" stroke-width="1.2"/>
<circle cx="543.9" cy="196.6" r="10.3" fill="#fff" stroke="#1c1c1c" stroke-width="1.1"/>
<line x1="543.9" y1="186.4" x2="543.9" y2="206.6" stroke="#1c1c1c" stroke-width="1.1"/>
<circle cx="316.7" cy="284.6" r="17.9" fill="#fff" stroke="#1c1c1c" stroke-width="1.1"/>
<path d="M313.2,301.6 L320.2,301.6 L318.7,299.6 L318.7,293.2 L314.7,293.2 L314.7,299.6 Z" fill="#fff" stroke="#1c1c1c" stroke-width="0.8"/>
<line x1="313.1" y1="301.7" x2="320.3" y2="301.7" stroke="#1c1c1c" stroke-width="1.3"/>
<rect x="314.4" y="267.6" width="4.6" height="25.6" fill="#fff" stroke="#1c1c1c" stroke-width="0.8"/>
<line x1="313.8" y1="269.20" x2="319.59999999999997" y2="269.20" stroke="#1c1c1c" stroke-width="0.85"/>
<line x1="313.8" y1="271.15" x2="319.59999999999997" y2="271.15" stroke="#1c1c1c" stroke-width="0.85"/>
<line x1="313.8" y1="273.10" x2="319.59999999999997" y2="273.10" stroke="#1c1c1c" stroke-width="0.85"/>
<line x1="313.8" y1="275.05" x2="319.59999999999997" y2="275.05" stroke="#1c1c1c" stroke-width="0.85"/>
<line x1="313.8" y1="277.00" x2="319.59999999999997" y2="277.00" stroke="#1c1c1c" stroke-width="0.85"/>
<line x1="313.8" y1="278.95" x2="319.59999999999997" y2="278.95" stroke="#1c1c1c" stroke-width="0.85"/>
<line x1="313.8" y1="280.90" x2="319.59999999999997" y2="280.90" stroke="#1c1c1c" stroke-width="0.85"/>
<line x1="313.8" y1="282.85" x2="319.59999999999997" y2="282.85" stroke="#1c1c1c" stroke-width="0.85"/>
<line x1="313.8" y1="284.80" x2="319.59999999999997" y2="284.80" stroke="#1c1c1c" stroke-width="0.85"/>
<line x1="313.8" y1="286.75" x2="319.59999999999997" y2="286.75" stroke="#1c1c1c" stroke-width="0.85"/>
<line x1="313.8" y1="288.70" x2="319.59999999999997" y2="288.70" stroke="#1c1c1c" stroke-width="0.85"/>
<line x1="313.8" y1="290.65" x2="319.59999999999997" y2="290.65" stroke="#1c1c1c" stroke-width="0.85"/>
<line x1="313.8" y1="292.60" x2="319.59999999999997" y2="292.60" stroke="#1c1c1c" stroke-width="0.85"/>
<line x1="315.1" y1="267.5" x2="318.3" y2="267.5" stroke="#1c1c1c" stroke-width="1.4"/>
<circle cx="29.6" cy="279.8" r="17.5" fill="#fff" stroke="#1c1c1c" stroke-width="1.1"/>
<circle cx="13.3" cy="260.9" r="9.8" fill="none" stroke="#1c1c1c" stroke-width="1.0"/>
<path d="M4.3,266.4 L15.4,279.6 M21.6,265.8 L17.2,278.4" fill="none" stroke="#1c1c1c" stroke-width="0.9"/>
<g transform="rotate(-6 10.7 263)"><ellipse cx="10.7" cy="263.0" rx="3.9" ry="7.2" fill="#fff" stroke="#1c1c1c" stroke-width="1.0"/></g>
<circle cx="15.5" cy="262.6" r="1.4" fill="#fff" stroke="#1c1c1c" stroke-width="0.8"/>
<g transform="translate(15.6,282.0) rotate(-9.1)">
<ellipse cx="1.4" cy="0" rx="1.7" ry="2.91" fill="#444" stroke="#1c1c1c" stroke-width="0.8"/>
<rect x="2.6" y="-2.12" width="1.89" height="4.23" fill="#333"/>
<rect x="4.09" y="-1.88" width="4.41" height="3.76" fill="#fff" stroke="#1c1c1c" stroke-width="0.8"/>
<rect x="8.50" y="-2.35" width="22.99" height="4.70" rx="0.8" fill="#1e1e1e"/>
<line x1="9.70" y1="-0.94" x2="9.95" y2="1.13" stroke="#e8e8e8" stroke-width="0.55"/>
<line x1="11.45" y1="-0.94" x2="11.70" y2="1.13" stroke="#e8e8e8" stroke-width="0.55"/>
<line x1="13.20" y1="-0.94" x2="13.45" y2="1.13" stroke="#e8e8e8" stroke-width="0.55"/>
<line x1="14.95" y1="-0.94" x2="15.20" y2="1.13" stroke="#e8e8e8" stroke-width="0.55"/>
<line x1="16.70" y1="-0.94" x2="16.95" y2="1.13" stroke="#e8e8e8" stroke-width="0.55"/>
<line x1="18.45" y1="-0.94" x2="18.70" y2="1.13" stroke="#e8e8e8" stroke-width="0.55"/>
<line x1="20.20" y1="-0.94" x2="20.45" y2="1.13" stroke="#e8e8e8" stroke-width="0.55"/>
<line x1="21.95" y1="-0.94" x2="22.20" y2="1.13" stroke="#e8e8e8" stroke-width="0.55"/>
<line x1="23.70" y1="-0.94" x2="23.95" y2="1.13" stroke="#e8e8e8" stroke-width="0.55"/>
<line x1="25.45" y1="-0.94" x2="25.70" y2="1.13" stroke="#e8e8e8" stroke-width="0.55"/>
<line x1="27.20" y1="-0.94" x2="27.45" y2="1.13" stroke="#e8e8e8" stroke-width="0.55"/>
<line x1="28.95" y1="-0.94" x2="29.20" y2="1.13" stroke="#e8e8e8" stroke-width="0.55"/>
</g>
<circle cx="59.4" cy="302.0" r="15.6" fill="#fff" stroke="#1c1c1c" stroke-width="1.1"/>
<polygon points="47.9,295.6 62.9,292.0 72.3,298.4 72.3,300.4 60.5,304.4 47.9,297.8" fill="#fff" stroke="#1c1c1c" stroke-width="0.8"/>
<polyline points="47.9,295.6 60.5,302.2 72.3,298.4" fill="none" stroke="#1c1c1c" stroke-width="0.7"/>
<line x1="60.5" y1="302.2" x2="60.5" y2="304.4" stroke="#1c1c1c" stroke-width="0.6"/>
<path d="M57.5,293.6 L65.2,298.6 L70,297.2 M62.5,294.2 q4.6,-1.2 6.4,1.8" fill="none" stroke="#1c1c1c" stroke-width="0.7"/>
<line x1="55.8" y1="305.6" x2="55.8" y2="322.4" stroke="#1c1c1c" stroke-width="1.2"/>
<circle cx="55.8" cy="322.8" r="1.0" fill="#1c1c1c"/>
<circle cx="55.8" cy="305.4" r="0.9" fill="#1c1c1c"/>
</g>
<g id="dresser" filter="url(#soft2)">
<polygon points="306.5,520 341,547.5 338,551 303,529" fill="#000" opacity="0.09" filter="url(#shb)"/>
<polygon points="307.40,346.40 605.50,328.50 654.00,339.90 652.40,511.98 341.00,546.81 307.40,526.40" fill="#747a86"/>
<polygon points="307.40,346.40 342.20,360.40 341.60,547.00 307.40,526.40" fill="url(#gside)"/>
<polygon points="307.40,346.40 605.50,328.50 654.00,339.90 341.60,360.00" fill="url(#gtop)"/>
<polygon points="341.60,360.03 654.00,339.90 654.00,343.80 341.60,362.92" fill="#717985" />
<line x1="341.6" y1="360.33" x2="654.0" y2="340.20" stroke="#8a909b" stroke-width="0.6"/>
<polygon points="344.60,362.74 497.00,353.41 497.00,365.47 344.60,375.43" fill="url(#grl0)" />
<polygon points="505.80,352.87 647.40,344.20 647.40,355.63 505.80,364.89" fill="url(#grr0)" />
<polygon points="344.60,362.74 647.40,344.20 647.40,346.60 344.60,365.14" fill="#000" opacity="0.16"/>
<polygon points="344.60,374.23 647.40,354.43 647.40,355.63 344.60,375.43" fill="#000" opacity="0.14"/>
<polygon points="341.60,362.92 344.80,362.73 344.80,375.42 341.60,375.63" fill="#737985" />
<polygon points="498.80,353.30 505.80,352.87 505.80,364.89 498.80,365.35" fill="#828894" />
<polygon points="496.90,353.42 498.80,353.30 498.80,365.35 496.90,365.47" fill="#474c56" />
<polygon points="649.00,344.11 654.00,343.80 654.00,355.20 649.00,355.53" fill="#828894" />
<polygon points="647.20,344.22 649.00,344.11 649.00,355.53 647.20,355.64" fill="#5a606b" />
<polygon points="344.60,419.71 497.00,408.72 497.00,418.68 344.60,430.60" fill="url(#grl)" />
<polygon points="505.80,408.09 647.40,397.88 647.40,406.92 505.80,417.99" fill="url(#grr)" />
<polygon points="344.60,419.71 647.40,397.88 647.40,400.28 344.60,422.11" fill="#000" opacity="0.2"/>
<polygon points="344.60,429.40 647.40,405.72 647.40,406.92 344.60,430.60" fill="#000" opacity="0.14"/>
<polygon points="341.60,419.93 344.80,419.70 344.80,430.58 341.60,430.83" fill="#737985" />
<polygon points="498.80,408.59 505.80,408.09 505.80,417.99 498.80,418.54" fill="#828894" />
<polygon points="496.90,408.73 498.80,408.59 498.80,418.54 496.90,418.69" fill="#474c56" />
<polygon points="649.00,397.76 654.00,397.40 654.00,406.40 649.00,406.79" fill="#828894" />
<polygon points="647.20,397.89 649.00,397.76 649.00,406.79 647.20,406.93" fill="#5a606b" />
<polygon points="344.60,474.18 497.00,461.14 497.00,470.84 344.60,484.57" fill="url(#grl)" />
<polygon points="505.80,460.38 647.40,448.26 647.40,457.29 505.80,470.05" fill="url(#grr)" />
<polygon points="344.60,474.18 647.40,448.26 647.40,450.66 344.60,476.58" fill="#000" opacity="0.2"/>
<polygon points="344.60,483.37 647.40,456.09 647.40,457.29 344.60,484.57" fill="#000" opacity="0.14"/>
<polygon points="341.60,474.43 344.80,474.16 344.80,484.55 341.60,484.84" fill="#737985" />
<polygon points="498.80,460.98 505.80,460.38 505.80,470.05 498.80,470.68" fill="#828894" />
<polygon points="496.90,461.14 498.80,460.98 498.80,470.68 496.90,470.85" fill="#474c56" />
<polygon points="649.00,448.13 654.00,447.70 654.00,456.70 649.00,457.15" fill="#828894" />
<polygon points="647.20,448.28 649.00,448.13 649.00,457.15 647.20,457.31" fill="#5a606b" />
<polygon points="341.20,529.98 653.00,497.80 653.00,511.91 341.20,546.19" fill="#6e7581" />
<polygon points="341.20,529.98 345.00,529.59 345.00,545.77 341.20,546.19" fill="#7a818d" />
<polygon points="646.60,498.46 652.80,497.82 652.80,511.93 646.60,512.61" fill="#7a818d" />
<polygon points="342.20,375.59 504.00,365.01 504.00,408.22 342.20,419.89" fill="url(#gdr)" />
<polygon points="504.80,364.96 653.60,355.23 653.60,397.43 504.80,408.16" fill="url(#gdr)" />
<line x1="504.4" y1="365.0" x2="504.4" y2="408.2" stroke="#4a505a" stroke-width="0.8"/>
<line x1="342.0" y1="375.6" x2="342.0" y2="419.9" stroke="#4a505a" stroke-width="0.7" opacity="0.6"/>
<line x1="342" y1="419.7" x2="653.6" y2="397.2" stroke="#4a505a" stroke-width="0.7" opacity="0.45"/>
<line x1="342" y1="375.9" x2="653.6" y2="355.5" stroke="#8b919c" stroke-width="0.5" opacity="0.7"/>
<polygon points="342.20,430.78 504.00,418.13 504.00,460.54 342.20,474.38" fill="url(#gdr)" />
<polygon points="504.80,418.07 653.60,406.43 653.60,447.73 504.80,460.47" fill="url(#gdr)" />
<line x1="504.4" y1="418.1" x2="504.4" y2="460.5" stroke="#4a505a" stroke-width="0.8"/>
<line x1="342.0" y1="430.8" x2="342.0" y2="474.4" stroke="#4a505a" stroke-width="0.7" opacity="0.6"/>
<line x1="342" y1="474.2" x2="653.6" y2="447.5" stroke="#4a505a" stroke-width="0.7" opacity="0.45"/>
<line x1="342" y1="431.1" x2="653.6" y2="406.7" stroke="#8b919c" stroke-width="0.5" opacity="0.7"/>
<polygon points="342.20,484.78 504.00,470.21 504.00,513.18 342.20,529.88" fill="url(#gdr)" />
<polygon points="504.80,470.14 653.60,456.74 653.60,497.74 504.80,513.10" fill="url(#gdr)" />
<line x1="504.4" y1="470.2" x2="504.4" y2="513.1" stroke="#4a505a" stroke-width="0.8"/>
<line x1="342.0" y1="484.8" x2="342.0" y2="529.9" stroke="#4a505a" stroke-width="0.7" opacity="0.6"/>
<line x1="342" y1="529.7" x2="653.6" y2="497.5" stroke="#4a505a" stroke-width="0.7" opacity="0.45"/>
<line x1="342" y1="485.1" x2="653.6" y2="457.0" stroke="#8b919c" stroke-width="0.5" opacity="0.7"/>
<line x1="653.9" y1="341" x2="652.6" y2="511.8" stroke="#4a505a" stroke-width="0.8" opacity="0.55"/>
</g>
<g id="dims" filter="url(#soft)">
<line x1="312" y1="328.9" x2="590" y2="311.9" stroke="#0a0a0a" stroke-width="3.5"/>
<polygon points="303.2,329.7 316.8,324.6 315.6,328.9 317.2,333.6" fill="#0a0a0a"/>
<polygon points="597.9,311.4 583.5,307.0 584.6,312.2 584.0,316.8" fill="#0a0a0a"/>
<line x1="611" y1="315.3" x2="669" y2="332.7" stroke="#0a0a0a" stroke-width="3.4"/>
<polygon points="603.6,313.0 618.6,312.4 616.2,316.8 616.0,321.6" fill="#0a0a0a"/>
<polygon points="676.5,335.0 661.6,335.6 663.9,331.2 664.2,326.4" fill="#0a0a0a"/>
<line x1="293.6" y1="350" x2="293.6" y2="518" stroke="#0a0a0a" stroke-width="3.5"/>
<polygon points="293.6,340.4 289.0,354.2 293.6,352.8 298.2,354.2" fill="#0a0a0a"/>
<polygon points="293.6,527.6 289.0,513.6 293.6,515.0 298.2,513.6" fill="#0a0a0a"/>
</g>
<g id="dims-text" filter="url(#softt)">
<text transform="translate(411.0,317.1) rotate(-2.4)" font-family="Liberation Sans" font-weight="bold" font-size="18.1" textLength="74.8" lengthAdjust="spacingAndGlyphs" fill="#0a0a0a" style="stroke:#0a0a0a;stroke-width:0.5px">1380 <tspan font-size="17.2">мм</tspan></text>
<text transform="translate(616.0,307.6) rotate(19)" font-family="Liberation Sans" font-weight="bold" font-size="15.6" textLength="58" lengthAdjust="spacingAndGlyphs" fill="#0a0a0a" style="stroke:#0a0a0a;stroke-width:0.5px">410 <tspan font-size="15">мм</tspan></text>
<text transform="translate(289.6,467.3) rotate(-90)" font-family="Liberation Sans" font-weight="bold" font-size="19.0" textLength="62.9" lengthAdjust="spacingAndGlyphs" fill="#0a0a0a" style="stroke:#0a0a0a;stroke-width:0.5px">730 <tspan font-size="17.8">мм</tspan></text>
</g>
<g id="parts-table" filter="url(#soft)">
<line x1="28.5" y1="358.30" x2="246.3" y2="358.30" stroke="#2a2a2a" stroke-width="1.05"/>
<line x1="28.5" y1="371.67" x2="246.3" y2="371.67" stroke="#2a2a2a" stroke-width="1.05"/>
<line x1="28.5" y1="385.03" x2="246.3" y2="385.03" stroke="#2a2a2a" stroke-width="1.05"/>
<line x1="28.5" y1="398.40" x2="246.3" y2="398.40" stroke="#2a2a2a" stroke-width="1.05"/>
<line x1="28.5" y1="411.77" x2="246.3" y2="411.77" stroke="#2a2a2a" stroke-width="1.05"/>
<line x1="28.5" y1="425.13" x2="246.3" y2="425.13" stroke="#2a2a2a" stroke-width="1.05"/>
<line x1="28.5" y1="438.50" x2="246.3" y2="438.50" stroke="#2a2a2a" stroke-width="1.05"/>
<line x1="28.5" y1="451.87" x2="246.3" y2="451.87" stroke="#2a2a2a" stroke-width="1.05"/>
<line x1="28.5" y1="465.23" x2="246.3" y2="465.23" stroke="#2a2a2a" stroke-width="1.05"/>
<line x1="28.5" y1="478.60" x2="246.3" y2="478.60" stroke="#2a2a2a" stroke-width="1.05"/>
<line x1="28.5" y1="491.97" x2="246.3" y2="491.97" stroke="#2a2a2a" stroke-width="1.05"/>
<line x1="28.5" y1="505.33" x2="246.3" y2="505.33" stroke="#2a2a2a" stroke-width="1.05"/>
<line x1="28.5" y1="518.70" x2="246.3" y2="518.70" stroke="#2a2a2a" stroke-width="1.05"/>
<line x1="28.5" y1="532.07" x2="246.3" y2="532.07" stroke="#2a2a2a" stroke-width="1.05"/>
<line x1="28.5" y1="545.43" x2="246.3" y2="545.43" stroke="#2a2a2a" stroke-width="1.05"/>
<line x1="28.5" y1="558.80" x2="246.3" y2="558.80" stroke="#2a2a2a" stroke-width="1.05"/>
<line x1="28.5" y1="358.3" x2="28.5" y2="558.80" stroke="#2a2a2a" stroke-width="1.05"/>
<line x1="46.0" y1="358.3" x2="46.0" y2="558.80" stroke="#2a2a2a" stroke-width="1.05"/>
<line x1="169.1" y1="358.3" x2="169.1" y2="558.80" stroke="#2a2a2a" stroke-width="1.05"/>
<line x1="229.1" y1="358.3" x2="229.1" y2="558.80" stroke="#2a2a2a" stroke-width="1.05"/>
<line x1="246.3" y1="358.3" x2="246.3" y2="558.80" stroke="#2a2a2a" stroke-width="1.05"/>
</g>
<g id="parts-text" filter="url(#softt)">
<text x="37.4" y="369.1" font-family="Liberation Serif" font-size="13.3" font-weight="normal" text-anchor="middle" >1</text>
<text x="49.1" y="369.1" font-family="Liberation Serif" font-size="13.3" font-weight="normal" text-anchor="start" textLength="84.0" lengthAdjust="spacingAndGlyphs" >Боковина левая</text>
<text x="179.4" y="369.1" font-family="Liberation Serif" font-size="13.3" font-weight="normal" text-anchor="start" textLength="44.6" lengthAdjust="spacingAndGlyphs" >714х388</text>
<text x="238.9" y="369.1" font-family="Liberation Serif" font-size="13.3" font-weight="normal" text-anchor="middle" >1</text>
<text x="37.4" y="382.5" font-family="Liberation Serif" font-size="13.3" font-weight="normal" text-anchor="middle" >2</text>
<text x="49.1" y="382.5" font-family="Liberation Serif" font-size="13.3" font-weight="normal" text-anchor="start" textLength="90.9" lengthAdjust="spacingAndGlyphs" >Боковина правая</text>
<text x="179.4" y="382.5" font-family="Liberation Serif" font-size="13.3" font-weight="normal" text-anchor="start" textLength="44.6" lengthAdjust="spacingAndGlyphs" >714х388</text>
<text x="238.9" y="382.5" font-family="Liberation Serif" font-size="13.3" font-weight="normal" text-anchor="middle" >1</text>
<text x="37.4" y="395.8" font-family="Liberation Serif" font-size="13.3" font-weight="normal" text-anchor="middle" >3</text>
<text x="49.1" y="395.8" font-family="Liberation Serif" font-size="13.3" font-weight="normal" text-anchor="start" textLength="102.2" lengthAdjust="spacingAndGlyphs" >Перегородка левая</text>
<text x="179.4" y="395.8" font-family="Liberation Serif" font-size="13.3" font-weight="normal" text-anchor="start" textLength="44.6" lengthAdjust="spacingAndGlyphs" >624х388</text>
<text x="238.9" y="395.8" font-family="Liberation Serif" font-size="13.3" font-weight="normal" text-anchor="middle" >1</text>
<text x="37.4" y="409.2" font-family="Liberation Serif" font-size="13.3" font-weight="normal" text-anchor="middle" >4</text>
<text x="49.1" y="409.2" font-family="Liberation Serif" font-size="13.3" font-weight="normal" text-anchor="start" textLength="109.1" lengthAdjust="spacingAndGlyphs" >Перегородка правая</text>
<text x="179.4" y="409.2" font-family="Liberation Serif" font-size="13.3" font-weight="normal" text-anchor="start" textLength="44.6" lengthAdjust="spacingAndGlyphs" >624х388</text>
<text x="238.9" y="409.2" font-family="Liberation Serif" font-size="13.3" font-weight="normal" text-anchor="middle" >1</text>
<text x="37.4" y="422.6" font-family="Liberation Serif" font-size="13.3" font-weight="normal" text-anchor="middle" >5</text>
<text x="49.1" y="422.6" font-family="Liberation Serif" font-size="13.3" font-weight="normal" text-anchor="start" textLength="81.3" lengthAdjust="spacingAndGlyphs" >Крыша комода</text>
<text x="173.6" y="422.6" font-family="Liberation Serif" font-size="13.3" font-weight="normal" text-anchor="start" textLength="51.1" lengthAdjust="spacingAndGlyphs" >1384х406</text>
<text x="238.9" y="422.6" font-family="Liberation Serif" font-size="13.3" font-weight="normal" text-anchor="middle" >1</text>
<text x="37.4" y="435.9" font-family="Liberation Serif" font-size="13.3" font-weight="normal" text-anchor="middle" >6</text>
<text x="49.1" y="435.9" font-family="Liberation Serif" font-size="13.3" font-weight="normal" text-anchor="start" textLength="64.1" lengthAdjust="spacingAndGlyphs" >Дно комода</text>
<text x="173.6" y="435.9" font-family="Liberation Serif" font-size="13.3" font-weight="normal" text-anchor="start" textLength="51.1" lengthAdjust="spacingAndGlyphs" >1348х388</text>
<text x="238.9" y="435.9" font-family="Liberation Serif" font-size="13.3" font-weight="normal" text-anchor="middle" >1</text>
<text x="37.4" y="449.3" font-family="Liberation Serif" font-size="13.3" font-weight="normal" text-anchor="middle" >7</text>
<text x="64.6" y="449.3" font-family="Liberation Serif" font-size="13.3" font-weight="normal" text-anchor="start" textLength="40.4" lengthAdjust="spacingAndGlyphs" >Цоколь</text>
<text x="173.6" y="449.3" font-family="Liberation Serif" font-size="13.3" font-weight="normal" text-anchor="start" textLength="44.5" lengthAdjust="spacingAndGlyphs" >1348х74</text>
<text x="238.9" y="449.3" font-family="Liberation Serif" font-size="13.3" font-weight="normal" text-anchor="middle" >1</text>
<text x="37.4" y="462.7" font-family="Liberation Serif" font-size="13.3" font-weight="normal" text-anchor="middle" >8</text>
<text x="64.6" y="462.7" font-family="Liberation Serif" font-size="13.3" font-weight="normal" text-anchor="start" textLength="39.4" lengthAdjust="spacingAndGlyphs" >Планка</text>
<text x="179.4" y="462.7" font-family="Liberation Serif" font-size="13.3" font-weight="normal" text-anchor="start" textLength="38.7" lengthAdjust="spacingAndGlyphs" >658х60</text>
<text x="238.9" y="462.7" font-family="Liberation Serif" font-size="13.3" font-weight="normal" text-anchor="middle" >6</text>
<text x="37.4" y="476.0" font-family="Liberation Serif" font-size="13.3" font-weight="normal" text-anchor="middle" >9</text>
<text x="50.9" y="476.0" font-family="Liberation Serif" font-size="13.3" font-weight="normal" text-anchor="start" textLength="87.4" lengthAdjust="spacingAndGlyphs" >Боковина ящика</text>
<text x="179.4" y="476.0" font-family="Liberation Serif" font-size="13.3" font-weight="normal" text-anchor="start" textLength="44.6" lengthAdjust="spacingAndGlyphs" >350х110</text>
<text x="231.6" y="476.0" font-family="Liberation Serif" font-size="13.3" font-weight="normal" text-anchor="start" textLength="13.2" lengthAdjust="spacingAndGlyphs" >12</text>
<text x="31.0" y="489.4" font-family="Liberation Serif" font-size="13.3" font-weight="normal" text-anchor="start" textLength="12.8" lengthAdjust="spacingAndGlyphs" >10</text>
<text x="50.9" y="489.4" font-family="Liberation Serif" font-size="13.3" font-weight="normal" text-anchor="start" textLength="116.5" lengthAdjust="spacingAndGlyphs" >Щит ящика передний</text>
<text x="179.4" y="489.4" font-family="Liberation Serif" font-size="13.3" font-weight="normal" text-anchor="start" textLength="44.6" lengthAdjust="spacingAndGlyphs" >601х110</text>
<text x="238.9" y="489.4" font-family="Liberation Serif" font-size="13.3" font-weight="normal" text-anchor="middle" >6</text>
<text x="31.0" y="502.8" font-family="Liberation Serif" font-size="13.3" font-weight="normal" text-anchor="start" textLength="12.8" lengthAdjust="spacingAndGlyphs" >11</text>
<text x="50.9" y="502.8" font-family="Liberation Serif" font-size="13.3" font-weight="normal" text-anchor="start" textLength="102.1" lengthAdjust="spacingAndGlyphs" >Щит ящика задний</text>
<text x="179.4" y="502.8" font-family="Liberation Serif" font-size="13.3" font-weight="normal" text-anchor="start" textLength="44.6" lengthAdjust="spacingAndGlyphs" >601х110</text>
<text x="238.9" y="502.8" font-family="Liberation Serif" font-size="13.3" font-weight="normal" text-anchor="middle" >6</text>
<text x="31.0" y="516.1" font-family="Liberation Serif" font-size="13.3" font-weight="normal" text-anchor="start" textLength="12.8" lengthAdjust="spacingAndGlyphs" >12</text>
<text x="58.4" y="516.1" font-family="Liberation Serif" font-size="13.3" font-weight="normal" text-anchor="start" textLength="70.6" lengthAdjust="spacingAndGlyphs" >Фасад ящика</text>
<text x="179.4" y="516.1" font-family="Liberation Serif" font-size="13.3" font-weight="normal" text-anchor="start" textLength="44.6" lengthAdjust="spacingAndGlyphs" >686х170</text>
<text x="238.9" y="516.1" font-family="Liberation Serif" font-size="13.3" font-weight="normal" text-anchor="middle" >6</text>
<text x="31.0" y="529.5" font-family="Liberation Serif" font-size="13.3" font-weight="normal" text-anchor="start" textLength="12.8" lengthAdjust="spacingAndGlyphs" >13</text>
<text x="60.5" y="529.5" font-family="Liberation Serif" font-size="13.3" font-weight="normal" text-anchor="start" textLength="56.5" lengthAdjust="spacingAndGlyphs" >Дно ящика</text>
<text x="179.4" y="529.5" font-family="Liberation Serif" font-size="13.3" font-weight="normal" text-anchor="start" textLength="44.6" lengthAdjust="spacingAndGlyphs" >630х346</text>
<text x="238.9" y="529.5" font-family="Liberation Serif" font-size="13.3" font-weight="normal" text-anchor="middle" >6</text>
<text x="31.0" y="542.9" font-family="Liberation Serif" font-size="13.3" font-weight="normal" text-anchor="start" textLength="12.8" lengthAdjust="spacingAndGlyphs" >14</text>
<text x="57.0" y="542.9" font-family="Liberation Serif" font-size="13.3" font-weight="normal" text-anchor="start" textLength="76.1" lengthAdjust="spacingAndGlyphs" >Стенка задняя</text>
<text x="179.4" y="542.9" font-family="Liberation Serif" font-size="13.3" font-weight="normal" text-anchor="start" textLength="44.6" lengthAdjust="spacingAndGlyphs" >650х343</text>
<text x="238.9" y="542.9" font-family="Liberation Serif" font-size="13.3" font-weight="normal" text-anchor="middle" >4</text>
<text x="31.0" y="556.2" font-family="Liberation Serif" font-size="13.3" font-weight="normal" text-anchor="start" textLength="12.8" lengthAdjust="spacingAndGlyphs" >15</text>
<text x="47.4" y="556.2" font-family="Liberation Serif" font-size="13.3" font-weight="normal" text-anchor="start" textLength="113.2" lengthAdjust="spacingAndGlyphs" >Профиль соединительный</text>
<text x="170.8" y="556.2" font-family="Liberation Serif" font-size="13.3" font-weight="normal" text-anchor="start" textLength="49.1" lengthAdjust="spacingAndGlyphs" >L=662мм</text>
<text x="238.9" y="556.2" font-family="Liberation Serif" font-size="13.3" font-weight="normal" text-anchor="middle" >2</text>
</g>
<g id="hw-table" filter="url(#soft)">
<line x1="50.8" y1="607.7" x2="648.9" y2="607.7" stroke="#2a2a2a" stroke-width="1.05"/>
<line x1="50.8" y1="658.5" x2="648.9" y2="658.5" stroke="#2a2a2a" stroke-width="1.05"/>
<line x1="50.8" y1="681.2" x2="648.9" y2="681.2" stroke="#2a2a2a" stroke-width="1.05"/>
<line x1="50.8" y1="697.8" x2="648.9" y2="697.8" stroke="#2a2a2a" stroke-width="1.05"/>
<line x1="50.8" y1="607.7" x2="50.8" y2="697.8" stroke="#2a2a2a" stroke-width="1.05"/>
<line x1="98.3" y1="607.7" x2="98.3" y2="697.8" stroke="#2a2a2a" stroke-width="1.05"/>
<line x1="142.5" y1="607.7" x2="142.5" y2="697.8" stroke="#2a2a2a" stroke-width="1.05"/>
<line x1="196.0" y1="607.7" x2="196.0" y2="697.8" stroke="#2a2a2a" stroke-width="1.05"/>
<line x1="245.3" y1="607.7" x2="245.3" y2="697.8" stroke="#2a2a2a" stroke-width="1.05"/>
<line x1="278.9" y1="607.7" x2="278.9" y2="697.8" stroke="#2a2a2a" stroke-width="1.05"/>
<line x1="314.2" y1="607.7" x2="314.2" y2="697.8" stroke="#2a2a2a" stroke-width="1.05"/>
<line x1="350.4" y1="607.7" x2="350.4" y2="697.8" stroke="#2a2a2a" stroke-width="1.05"/>
<line x1="397.9" y1="607.7" x2="397.9" y2="697.8" stroke="#2a2a2a" stroke-width="1.05"/>
<line x1="445.8" y1="607.7" x2="445.8" y2="697.8" stroke="#2a2a2a" stroke-width="1.05"/>
<line x1="508.5" y1="607.7" x2="508.5" y2="697.8" stroke="#2a2a2a" stroke-width="1.05"/>
<line x1="544.8" y1="607.7" x2="544.8" y2="697.8" stroke="#2a2a2a" stroke-width="1.05"/>
<line x1="648.9" y1="607.7" x2="648.9" y2="697.8" stroke="#2a2a2a" stroke-width="1.05"/>
</g>
<g id="hw-text" filter="url(#softt)">
<text x="190.8" y="603.5" font-family="Liberation Serif" font-size="18.6" font-weight="normal" text-anchor="start" textLength="331.2" lengthAdjust="spacingAndGlyphs" >Комплект фурнитуры для сборки комода</text>
<text x="55.4" y="673.3" font-family="Liberation Serif" font-size="10.4" font-weight="normal" text-anchor="start" textLength="40.1" lengthAdjust="spacingAndGlyphs" >Евровинт</text>
<text x="100.0" y="673.3" font-family="Liberation Serif" font-size="10.4" font-weight="normal" text-anchor="start" textLength="40.1" lengthAdjust="spacingAndGlyphs" >Заглушка</text>
<text x="149.0" y="673.3" font-family="Liberation Serif" font-size="10.4" font-weight="normal" text-anchor="start" textLength="42.5" lengthAdjust="spacingAndGlyphs" >Евроключ</text>
<text x="202.8" y="673.3" font-family="Liberation Serif" font-size="10.4" font-weight="normal" text-anchor="start" textLength="29.2" lengthAdjust="spacingAndGlyphs" >Ножка</text>
<text x="248.0" y="673.3" font-family="Liberation Serif" font-size="10.4" font-weight="normal" text-anchor="start" textLength="27.9" lengthAdjust="spacingAndGlyphs" >Гвоздь</text>
<text x="512.0" y="673.3" font-family="Liberation Serif" font-size="10.4" font-weight="normal" text-anchor="start" textLength="29.0" lengthAdjust="spacingAndGlyphs" >Шкант</text>
<text x="281.0" y="667.2" font-family="Liberation Serif" font-size="10.4" font-weight="normal" text-anchor="start" textLength="30.3" lengthAdjust="spacingAndGlyphs" >Шуруп</text>
<text x="286.3" y="679.0" font-family="Liberation Serif" font-size="10.4" font-weight="normal" text-anchor="start" textLength="19.5" lengthAdjust="spacingAndGlyphs" >4х16</text>
<text x="316.0" y="667.2" font-family="Liberation Serif" font-size="10.4" font-weight="normal" text-anchor="start" textLength="31.0" lengthAdjust="spacingAndGlyphs" >Шуруп</text>
<text x="322.3" y="679.0" font-family="Liberation Serif" font-size="10.4" font-weight="normal" text-anchor="start" textLength="17.7" lengthAdjust="spacingAndGlyphs" >4х30</text>
<text x="353.8" y="667.2" font-family="Liberation Serif" font-size="10.4" font-weight="normal" text-anchor="start" textLength="41.2" lengthAdjust="spacingAndGlyphs" >Ввинчив.</text>
<text x="358.3" y="679.0" font-family="Liberation Serif" font-size="10.4" font-weight="normal" text-anchor="start" textLength="30.7" lengthAdjust="spacingAndGlyphs" >дюбель</text>
<text x="400.4" y="667.2" font-family="Liberation Serif" font-size="10.4" font-weight="normal" text-anchor="start" textLength="43.6" lengthAdjust="spacingAndGlyphs" >Эксцентр.</text>
<text x="406.3" y="679.0" font-family="Liberation Serif" font-size="10.4" font-weight="normal" text-anchor="start" textLength="29.7" lengthAdjust="spacingAndGlyphs" >стяжка</text>
<text x="447.5" y="667.2" font-family="Liberation Serif" font-size="10.4" font-weight="normal" text-anchor="start" textLength="59.4" lengthAdjust="spacingAndGlyphs" >Заглушка для</text>
<text x="451.0" y="679.0" font-family="Liberation Serif" font-size="10.4" font-weight="normal" text-anchor="start" textLength="52.4" lengthAdjust="spacingAndGlyphs" >эксцентрика</text>
<text x="551.4" y="667.2" font-family="Liberation Serif" font-size="10.4" font-weight="normal" text-anchor="start" textLength="90.9" lengthAdjust="spacingAndGlyphs" >Комплект роликовых</text>
<text x="549.7" y="679.0" font-family="Liberation Serif" font-size="10.4" font-weight="normal" text-anchor="start" textLength="97.0" lengthAdjust="spacingAndGlyphs" >направляющих L=350мм</text>
<text x="78.0" y="694.2" font-family="Liberation Serif" font-size="13.8" font-weight="normal" text-anchor="middle" >18</text>
<text x="118.9" y="694.2" font-family="Liberation Serif" font-size="13.8" font-weight="normal" text-anchor="middle" >6</text>
<text x="168.6" y="694.2" font-family="Liberation Serif" font-size="13.8" font-weight="normal" text-anchor="middle" >1</text>
<text x="216.6" y="694.2" font-family="Liberation Serif" font-size="13.8" font-weight="normal" text-anchor="middle" >5</text>
<text x="261.3" y="694.2" font-family="Liberation Serif" font-size="13.8" font-weight="normal" text-anchor="middle" >100</text>
<text x="295.5" y="694.2" font-family="Liberation Serif" font-size="13.8" font-weight="normal" text-anchor="middle" >48</text>
<text x="331.5" y="694.2" font-family="Liberation Serif" font-size="13.8" font-weight="normal" text-anchor="middle" >24</text>
<text x="371.3" y="694.2" font-family="Liberation Serif" font-size="13.8" font-weight="normal" text-anchor="middle" >8</text>
<text x="418.3" y="694.2" font-family="Liberation Serif" font-size="13.8" font-weight="normal" text-anchor="middle" >8</text>
<text x="477.0" y="694.2" font-family="Liberation Serif" font-size="13.8" font-weight="normal" text-anchor="middle" >8</text>
<text x="527.4" y="694.2" font-family="Liberation Serif" font-size="13.8" font-weight="normal" text-anchor="middle" >24</text>
<text x="597.7" y="694.2" font-family="Liberation Serif" font-size="13.8" font-weight="normal" text-anchor="middle" >6</text>
</g>
<g id="icons" filter="url(#soft)">
<g transform="translate(56.0,640.8) rotate(-29.8)">
<path d="M1.2,-4.52 L5.54,-2.09 L11.51,-2.09 L11.51,2.09 L5.54,2.09 L1.2,4.52 Z" fill="#fff" stroke="#1c1c1c" stroke-width="0.8"/>
<ellipse cx="1.2" cy="0" rx="2.3" ry="4.52" fill="#fff" stroke="#1c1c1c" stroke-width="0.9"/>
<ellipse cx="1.2" cy="0" rx="1.0" ry="1.90" fill="#fff" stroke="#1c1c1c" stroke-width="0.7"/>
<path d="M11.51,-2.44 L41.14,-2.44 Q43.24,0 41.14,2.44 L11.51,2.44 Z" fill="#bbb" stroke="#1c1c1c" stroke-width="0.7"/>
<line x1="12.41" y1="-3.19" x2="12.96" y2="3.19" stroke="#1c1c1c" stroke-width="1.25" stroke-linecap="round"/>
<line x1="14.46" y1="-3.19" x2="15.01" y2="3.19" stroke="#1c1c1c" stroke-width="1.25" stroke-linecap="round"/>
<line x1="16.51" y1="-3.19" x2="17.06" y2="3.19" stroke="#1c1c1c" stroke-width="1.25" stroke-linecap="round"/>
<line x1="18.56" y1="-3.19" x2="19.11" y2="3.19" stroke="#1c1c1c" stroke-width="1.25" stroke-linecap="round"/>
<line x1="20.61" y1="-3.19" x2="21.16" y2="3.19" stroke="#1c1c1c" stroke-width="1.25" stroke-linecap="round"/>
<line x1="22.66" y1="-3.19" x2="23.21" y2="3.19" stroke="#1c1c1c" stroke-width="1.25" stroke-linecap="round"/>
<line x1="24.71" y1="-3.19" x2="25.26" y2="3.19" stroke="#1c1c1c" stroke-width="1.25" stroke-linecap="round"/>
<line x1="26.76" y1="-3.19" x2="27.31" y2="3.19" stroke="#1c1c1c" stroke-width="1.25" stroke-linecap="round"/>
<line x1="28.81" y1="-3.19" x2="29.36" y2="3.19" stroke="#1c1c1c" stroke-width="1.25" stroke-linecap="round"/>
<line x1="30.86" y1="-3.19" x2="31.41" y2="3.19" stroke="#1c1c1c" stroke-width="1.25" stroke-linecap="round"/>
<line x1="32.91" y1="-3.19" x2="33.46" y2="3.19" stroke="#1c1c1c" stroke-width="1.25" stroke-linecap="round"/>
<line x1="34.96" y1="-3.19" x2="35.51" y2="3.19" stroke="#1c1c1c" stroke-width="1.25" stroke-linecap="round"/>
<line x1="37.01" y1="-3.19" x2="37.56" y2="3.19" stroke="#1c1c1c" stroke-width="1.25" stroke-linecap="round"/>
<line x1="39.06" y1="-3.19" x2="39.61" y2="3.19" stroke="#1c1c1c" stroke-width="1.25" stroke-linecap="round"/>
</g>
<g transform="rotate(-18 118.3 630.7)"><ellipse cx="118.3" cy="630.7" rx="4.6" ry="6.8" fill="#fff" stroke="#1c1c1c" stroke-width="0.9"/></g>
<path d="M122.4,627.2 l2.2,-1.0 l1.0,2.2 l-2.0,1.2 M124.6,626.2 l0.6,-1.2" fill="none" stroke="#1c1c1c" stroke-width="0.8"/>
<polygon points="145.3,626.2 170.6,612.6 172.6,615.0 150.6,626.9 189.4,648.6 187.6,651.4" fill="#fff" stroke="#1c1c1c" stroke-width="0.9" stroke-linejoin="round"/>
<polyline points="171.6,613.8 148.0,626.5 188.5,650.0" fill="none" stroke="#1c1c1c" stroke-width="0.6"/>
<polygon points="199.0,627.4 213.1,618.0 240.7,634.5 240.7,637.4 225.4,646.0 199.0,630.2" fill="#fff" stroke="#1c1c1c" stroke-width="0.9" stroke-linejoin="round"/>
<polyline points="199.0,627.4 225.4,643.0 240.7,634.5" fill="none" stroke="#1c1c1c" stroke-width="0.8"/>
<line x1="225.4" y1="643.0" x2="225.4" y2="646.0" stroke="#1c1c1c" stroke-width="0.7"/>
<path d="M215.5,619.6 C224,618 232,623 235.4,631.2 M217.0,620.6 C224,619.6 231,624 234.0,630.6" fill="none" stroke="#1c1c1c" stroke-width="0.8"/>
<path d="M228.5,642.0 l0,2.2 M236.5,637.6 l0,2.0 M232.5,639.8 l0,2.0" stroke="#1c1c1c" stroke-width="0.6" fill="none"/>
<circle cx="208.9" cy="623.9" r="0.8" fill="#1c1c1c"/>
<circle cx="228.9" cy="635.6" r="0.8" fill="#1c1c1c"/>
<line x1="258.0" y1="623.6" x2="258.8" y2="640.4" stroke="#1c1c1c" stroke-width="1.4"/>
<circle cx="258.0" cy="623.4" r="1.2" fill="#1c1c1c"/>
<g transform="translate(287.3,636.6) rotate(-28.5)">
<path d="M0.67,-3.60 L4.14,-1.26 L17.3,-1.20 L19.7,0 L17.3,1.20 L4.14,1.26 L0.67,3.60 Z" fill="#3a3a3a" stroke="#1c1c1c" stroke-width="0.6"/>
<line x1="4.94" y1="-1.86" x2="5.54" y2="1.86" stroke="#111" stroke-width="0.8"/>
<line x1="5.69" y1="-0.66" x2="5.89" y2="0.66" stroke="#bbb" stroke-width="0.45"/>
<line x1="6.44" y1="-1.86" x2="7.04" y2="1.86" stroke="#111" stroke-width="0.8"/>
<line x1="7.19" y1="-0.66" x2="7.39" y2="0.66" stroke="#bbb" stroke-width="0.45"/>
<line x1="7.94" y1="-1.86" x2="8.54" y2="1.86" stroke="#111" stroke-width="0.8"/>
<line x1="8.69" y1="-0.66" x2="8.89" y2="0.66" stroke="#bbb" stroke-width="0.45"/>
<line x1="9.44" y1="-1.86" x2="10.04" y2="1.86" stroke="#111" stroke-width="0.8"/>
<line x1="10.19" y1="-0.66" x2="10.39" y2="0.66" stroke="#bbb" stroke-width="0.45"/>
<line x1="10.94" y1="-1.86" x2="11.54" y2="1.86" stroke="#111" stroke-width="0.8"/>
<line x1="11.69" y1="-0.66" x2="11.89" y2="0.66" stroke="#bbb" stroke-width="0.45"/>
<line x1="12.44" y1="-1.86" x2="13.04" y2="1.86" stroke="#111" stroke-width="0.8"/>
<line x1="13.19" y1="-0.66" x2="13.39" y2="0.66" stroke="#bbb" stroke-width="0.45"/>
<line x1="13.94" y1="-1.86" x2="14.54" y2="1.86" stroke="#111" stroke-width="0.8"/>
<line x1="14.69" y1="-0.66" x2="14.89" y2="0.66" stroke="#bbb" stroke-width="0.45"/>
<line x1="15.44" y1="-1.86" x2="16.04" y2="1.86" stroke="#111" stroke-width="0.8"/>
<line x1="16.19" y1="-0.66" x2="16.39" y2="0.66" stroke="#bbb" stroke-width="0.45"/>
<line x1="16.94" y1="-1.86" x2="17.54" y2="1.86" stroke="#111" stroke-width="0.8"/>
<line x1="17.69" y1="-0.66" x2="17.89" y2="0.66" stroke="#bbb" stroke-width="0.45"/>
<ellipse cx="0" cy="0" rx="2.23" ry="3.60" fill="#fff" stroke="#1c1c1c" stroke-width="0.9"/>
<path d="M-1.23,-1.80 L1.23,1.80 M-1.23,1.80 L1.23,-1.80" stroke="#1c1c1c" stroke-width="0.8" fill="none"/>
</g>
<g transform="translate(319.4,641.3) rotate(-28.3)">
<path d="M0.67,-3.60 L4.14,-1.22 L29.9,-1.16 L32.3,0 L29.9,1.16 L4.14,1.22 L0.67,3.60 Z" fill="#3a3a3a" stroke="#1c1c1c" stroke-width="0.6"/>
<line x1="4.94" y1="-1.80" x2="5.54" y2="1.80" stroke="#111" stroke-width="0.8"/>
<line x1="5.69" y1="-0.64" x2="5.89" y2="0.64" stroke="#bbb" stroke-width="0.45"/>
<line x1="6.44" y1="-1.80" x2="7.04" y2="1.80" stroke="#111" stroke-width="0.8"/>
<line x1="7.19" y1="-0.64" x2="7.39" y2="0.64" stroke="#bbb" stroke-width="0.45"/>
<line x1="7.94" y1="-1.80" x2="8.54" y2="1.80" stroke="#111" stroke-width="0.8"/>
<line x1="8.69" y1="-0.64" x2="8.89" y2="0.64" stroke="#bbb" stroke-width="0.45"/>
<line x1="9.44" y1="-1.80" x2="10.04" y2="1.80" stroke="#111" stroke-width="0.8"/>
<line x1="10.19" y1="-0.64" x2="10.39" y2="0.64" stroke="#bbb" stroke-width="0.45"/>
<line x1="10.94" y1="-1.80" x2="11.54" y2="1.80" stroke="#111" stroke-width="0.8"/>
<line x1="11.69" y1="-0.64" x2="11.89" y2="0.64" stroke="#bbb" stroke-width="0.45"/>
<line x1="12.44" y1="-1.80" x2="13.04" y2="1.80" stroke="#111" stroke-width="0.8"/>
<line x1="13.19" y1="-0.64" x2="13.39" y2="0.64" stroke="#bbb" stroke-width="0.45"/>
<line x1="13.94" y1="-1.80" x2="14.54" y2="1.80" stroke="#111" stroke-width="0.8"/>
<line x1="14.69" y1="-0.64" x2="14.89" y2="0.64" stroke="#bbb" stroke-width="0.45"/>
<line x1="15.44" y1="-1.80" x2="16.04" y2="1.80" stroke="#111" stroke-width="0.8"/>
<line x1="16.19" y1="-0.64" x2="16.39" y2="0.64" stroke="#bbb" stroke-width="0.45"/>
<line x1="16.94" y1="-1.80" x2="17.54" y2="1.80" stroke="#111" stroke-width="0.8"/>
<line x1="17.69" y1="-0.64" x2="17.89" y2="0.64" stroke="#bbb" stroke-width="0.45"/>
<line x1="18.44" y1="-1.80" x2="19.04" y2="1.80" stroke="#111" stroke-width="0.8"/>
<line x1="19.19" y1="-0.64" x2="19.39" y2="0.64" stroke="#bbb" stroke-width="0.45"/>
<line x1="19.94" y1="-1.80" x2="20.54" y2="1.80" stroke="#111" stroke-width="0.8"/>
<line x1="20.69" y1="-0.64" x2="20.89" y2="0.64" stroke="#bbb" stroke-width="0.45"/>
<line x1="21.44" y1="-1.80" x2="22.04" y2="1.80" stroke="#111" stroke-width="0.8"/>
<line x1="22.19" y1="-0.64" x2="22.39" y2="0.64" stroke="#bbb" stroke-width="0.45"/>
<line x1="22.94" y1="-1.80" x2="23.54" y2="1.80" stroke="#111" stroke-width="0.8"/>
<line x1="23.69" y1="-0.64" x2="23.89" y2="0.64" stroke="#bbb" stroke-width="0.45"/>
<line x1="24.44" y1="-1.80" x2="25.04" y2="1.80" stroke="#111" stroke-width="0.8"/>
<line x1="25.19" y1="-0.64" x2="25.39" y2="0.64" stroke="#bbb" stroke-width="0.45"/>
<line x1="25.94" y1="-1.80" x2="26.54" y2="1.80" stroke="#111" stroke-width="0.8"/>
<line x1="26.69" y1="-0.64" x2="26.89" y2="0.64" stroke="#bbb" stroke-width="0.45"/>
<line x1="27.44" y1="-1.80" x2="28.04" y2="1.80" stroke="#111" stroke-width="0.8"/>
<line x1="28.19" y1="-0.64" x2="28.39" y2="0.64" stroke="#bbb" stroke-width="0.45"/>
<line x1="28.94" y1="-1.80" x2="29.54" y2="1.80" stroke="#111" stroke-width="0.8"/>
<line x1="29.69" y1="-0.64" x2="29.89" y2="0.64" stroke="#bbb" stroke-width="0.45"/>
<ellipse cx="0" cy="0" rx="2.23" ry="3.60" fill="#fff" stroke="#1c1c1c" stroke-width="0.9"/>
<path d="M-1.23,-1.80 L1.23,1.80 M-1.23,1.80 L1.23,-1.80" stroke="#1c1c1c" stroke-width="0.8" fill="none"/>
</g>
<g transform="translate(356.1,642.5) rotate(-28.9)"><circle cx="0.3" cy="0" r="3.0" fill="#fff" stroke="#1c1c1c" stroke-width="0.9"/><path d="M-0.8,-1.2 l2.6,2.4 M-0.8,1.2 l2.6,-2.4" stroke="#1c1c1c" stroke-width="0.6"/><rect x="3.0" y="-1.6" width="2.4" height="3.2" fill="#fff" stroke="#1c1c1c" stroke-width="0.7"/><rect x="5.2" y="-4.2" width="2.2" height="8.4" rx="0.8" fill="#fff" stroke="#1c1c1c" stroke-width="0.8"/><rect x="7.4" y="-3.9" width="23.5" height="7.8" fill="#fff" stroke="#1c1c1c" stroke-width="0.9"/><rect x="30.9" y="-4.2" width="12.6" height="8.4" rx="1.2" fill="#888" stroke="#1c1c1c" stroke-width="0.9"/><line x1="32.4" y1="-3.9" x2="33.2" y2="3.9" stroke="#1c1c1c" stroke-width="1.0"/><line x1="34.7" y1="-3.9" x2="35.5" y2="3.9" stroke="#1c1c1c" stroke-width="1.0"/><line x1="37.0" y1="-3.9" x2="37.8" y2="3.9" stroke="#1c1c1c" stroke-width="1.0"/><line x1="39.3" y1="-3.9" x2="40.1" y2="3.9" stroke="#1c1c1c" stroke-width="1.0"/><line x1="41.6" y1="-3.9" x2="42.4" y2="3.9" stroke="#1c1c1c" stroke-width="1.0"/></g>
<g transform="translate(418.2,631.6) scale(1.13) translate(-418.2,-631.0)">
<path d="M410.59999999999997,626.0 v9.6 c0,3 15.2,3 15.2,0 v-9.6" fill="#fff" stroke="#1c1c1c" stroke-width="0.9"/>
<path d="M410.59999999999997,630.0 h4 v4.6 h-4 M425.8,630.0 h-4 v4.6 h4 M416.4,631.4 v5.6 M420.0,631.4 v5.6" fill="none" stroke="#1c1c1c" stroke-width="0.8"/>
<rect x="414.8" y="630.6" width="6.8" height="4.0" fill="#666" stroke="#1c1c1c" stroke-width="0.5"/>
<path d="M413.59999999999997,637.6 c1,4.8 8.4,5.2 9.4,1.2 c0.6,-2.6 -3.8,-3.6 -5.0,-1.6" fill="none" stroke="#1c1c1c" stroke-width="0.9"/>
<ellipse cx="418.2" cy="625.4" rx="7.9" ry="4.5" fill="#fff" stroke="#1c1c1c" stroke-width="1.0"/>
<ellipse cx="418.2" cy="626.0" rx="7.9" ry="4.5" fill="none" stroke="#1c1c1c" stroke-width="0.5"/>
<path d="M413.8,624.4 l8.8,2.0 M416.2,627.6 l4.2,-4.6" stroke="#1c1c1c" stroke-width="1.3" fill="none"/>
</g>
<ellipse cx="478.2" cy="629.8" rx="11.6" ry="6.8" fill="#fff" stroke="#1c1c1c" stroke-width="0.8"/>
<ellipse cx="478.2" cy="628.8" rx="11.6" ry="6.8" fill="#fff" stroke="#1c1c1c" stroke-width="0.9"/>
<g transform="translate(520.7,630.8) rotate(-31.1)"><rect x="0" y="-2.4" width="18.8" height="4.8" rx="1.8" fill="#fff" stroke="#1c1c1c" stroke-width="0.9"/><line x1="1.6" y1="-0.9" x2="17.6" y2="-0.9" stroke="#1c1c1c" stroke-width="0.6"/><line x1="1.6" y1="0.8" x2="17.6" y2="0.8" stroke="#1c1c1c" stroke-width="0.6"/><ellipse cx="1.3" cy="0" rx="1.3" ry="2.4" fill="#fff" stroke="#1c1c1c" stroke-width="0.7"/></g>
<polygon points="551.7,608.9 624.0,632.2 629.1,630.9 633.4,633.4 633.4,644.9 629.4,645.4 627.4,642.0 551.7,617.1" fill="#fff" stroke="#1c1c1c" stroke-width="0.9" stroke-linejoin="round"/>
<polyline points="552.0,609.6 624.0,632.9 629.1,631.6" fill="none" stroke="#1c1c1c" stroke-width="1.7"/>
<polyline points="552.4,615.4 626.0,639.6" fill="none" stroke="#1c1c1c" stroke-width="0.6"/>
<path d="M629.4,634.4 v10.4 M631.4,635.2 v9.6 M627.6,637.6 h4.6" stroke="#1c1c1c" stroke-width="0.7" fill="none"/>
<rect x="555.9" y="612.6" width="1.8" height="2.0" fill="#1c1c1c"/>
<rect x="563.1" y="615.0" width="1.8" height="2.0" fill="#1c1c1c"/>
<rect x="568.7" y="616.8" width="1.8" height="2.0" fill="#1c1c1c"/>
<rect x="575.9" y="619.2" width="1.8" height="2.0" fill="#1c1c1c"/>
<rect x="600.1" y="627.2" width="1.8" height="2.0" fill="#1c1c1c"/>
<rect x="618.7" y="633.4" width="1.8" height="2.0" fill="#1c1c1c"/>
<polygon points="553.4,624.0 633.4,649.7 632.6,654.8 629.1,656.6 549.4,629.8 549.6,628.6 553.0,629.0" fill="#fff" stroke="#1c1c1c" stroke-width="0.9" stroke-linejoin="round"/>
<polyline points="553.4,624.6 633.2,650.3" fill="none" stroke="#1c1c1c" stroke-width="1.6"/>
<polyline points="553.2,628.8 629.6,654.0" fill="none" stroke="#1c1c1c" stroke-width="0.6"/>
<rect x="554.7" y="629.9" width="1.6" height="1.4" fill="#1c1c1c"/>
<rect x="583.8000000000001" y="639.5" width="1.6" height="1.4" fill="#1c1c1c"/>
<rect x="623.8000000000001" y="652.9" width="1.6" height="1.4" fill="#1c1c1c"/>
</g>
</svg>
</body></html>
